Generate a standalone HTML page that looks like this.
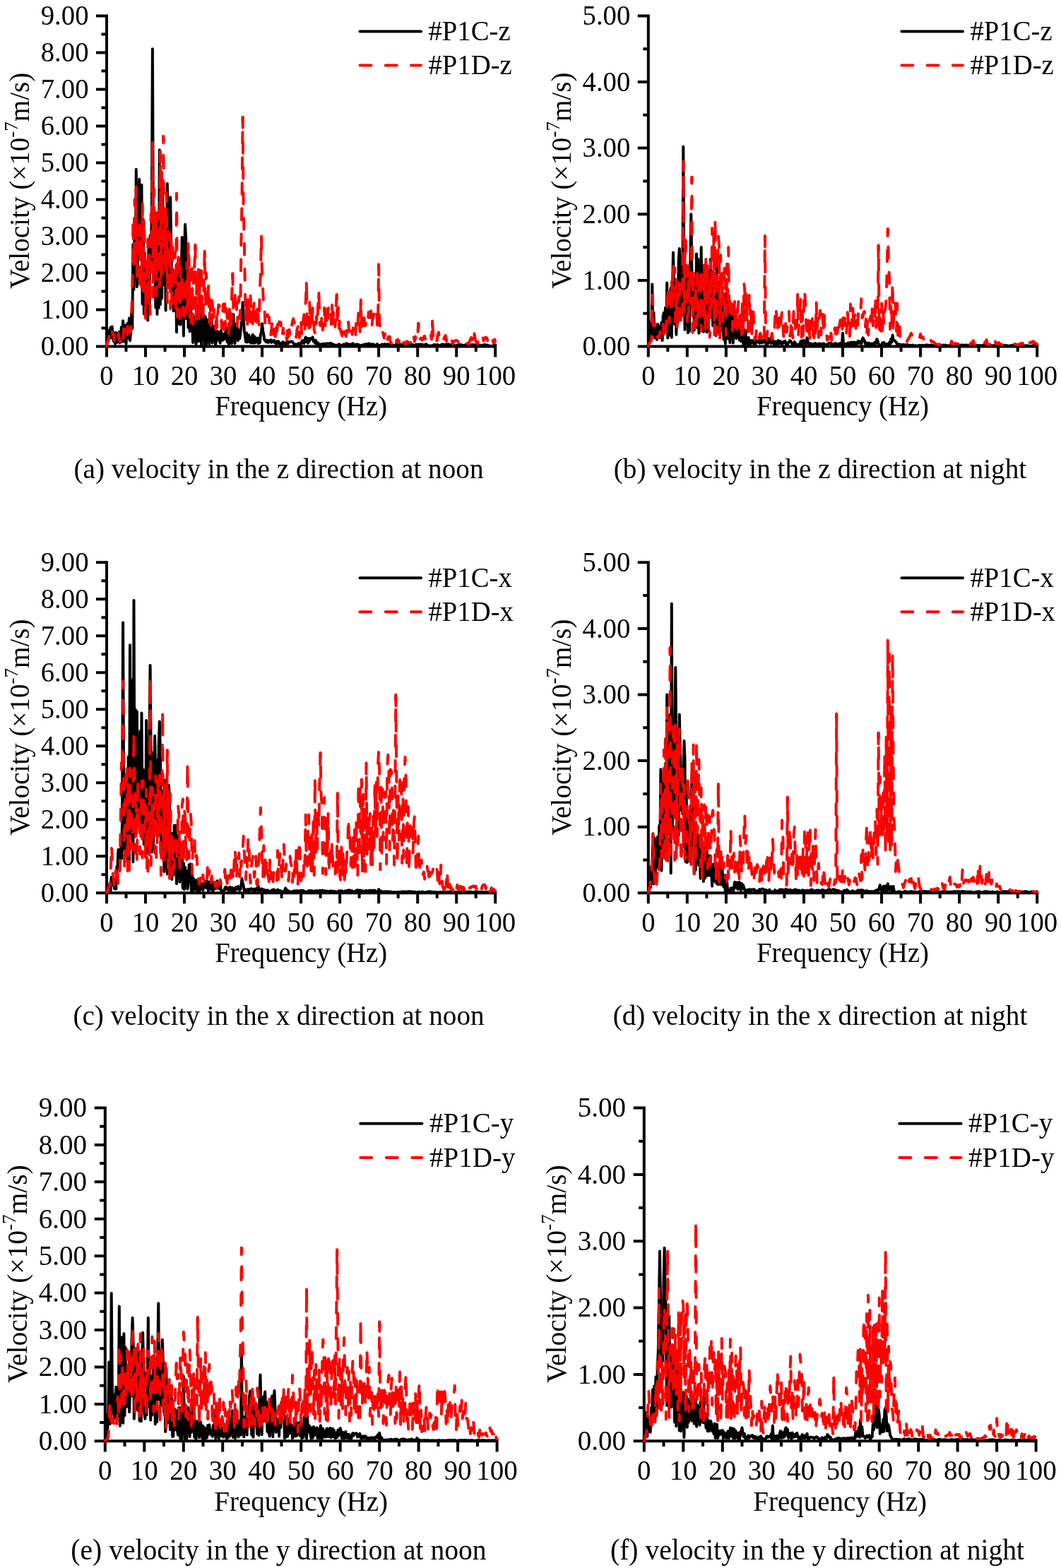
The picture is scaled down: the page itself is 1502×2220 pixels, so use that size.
<!DOCTYPE html>
<html lang="en">
<head>
<meta charset="utf-8">
<title>Velocity spectra at #P1C and #P1D</title>
<style>
html,body{margin:0;padding:0;background:#fff;}
body{width:1502px;height:2220px;overflow:hidden;}
svg{display:block;}
.t,.t text{font-family:"Liberation Serif","Times New Roman",Times,serif;fill:#000;}
.ax{fill:none;stroke:#000;stroke-linecap:butt;}
.sb{fill:none;stroke:#000;stroke-linejoin:round;stroke-linecap:round;}
.sr{fill:none;stroke:#f00;stroke-linejoin:round;stroke-linecap:round;stroke-dasharray:16 20;}
.rc{fill:none;stroke:#f00;stroke-linecap:round;}
.lb{stroke:#000;stroke-linecap:round;}
.lr{stroke:#f00;stroke-linecap:round;}
</style>
</head>
<body>
<svg width="1502" height="2220" viewBox="0 0 1502 2220">
<rect width="1502" height="2220" fill="#fff"/>
<g class="chart" id="chart-a">
<path class="ax" style="stroke-width:4" d="M151 20.4 V505.5 M136 490.5 H703.2 M143.5 464.5 H151 M136 438.5 H151 M143.5 412.5 H151 M136 386.5 H151 M143.5 360.5 H151 M136 334.5 H151 M143.5 308.5 H151 M136 282.5 H151 M143.5 256.4 H151 M136 230.4 H151 M143.5 204.4 H151 M136 178.4 H151 M143.5 152.4 H151 M136 126.4 H151 M143.5 100.4 H151 M136 74.4 H151 M143.5 48.4 H151 M136 22.4 H151 M178.5 490.5 V498 M206 490.5 V505.5 M233.5 490.5 V498 M261 490.5 V505.5 M288.6 490.5 V498 M316.1 490.5 V505.5 M343.6 490.5 V498 M371.1 490.5 V505.5 M398.6 490.5 V498 M426.1 490.5 V505.5 M453.6 490.5 V498 M481.1 490.5 V505.5 M508.6 490.5 V498 M536.1 490.5 V505.5 M563.7 490.5 V498 M591.2 490.5 V505.5 M618.7 490.5 V498 M646.2 490.5 V505.5 M673.7 490.5 V498 M701.2 490.5 V505.5"/>
<polyline class="sb" style="stroke-width:4" points="151,490.5 152.1,479.8 153.2,482.3 154.3,467.8 155.4,479 156.5,463.4 157.6,477.9 158.7,462.6 159.8,473.2 160.9,483.4 162,471.2 163.1,486.9 164.2,470.9 165.3,485.1 166.4,474.5 167.5,483.7 168.6,469.9 169.7,485.4 170.8,475.2 171.9,463.1 173,483.8 174.1,454.2 175.2,483.2 176.3,460.3 177.4,467.7 178.5,486.8 179.6,461.4 180.7,457.8 181.8,479.2 182.9,450.5 184,482.2 185.1,470.9 186.2,442.9 187.3,465.2 188.4,346.1 189.5,409.9 190.6,310.5 191.7,385.7 192.8,239.8 193.9,405.9 195,371.9 196.1,316 197.2,253.8 198.3,302.2 199.4,364.2 200.5,261.7 201.6,430.5 202.7,310.7 203.8,444.4 204.9,358.1 206,448.8 207.1,445.5 208.2,377.6 209.3,453.6 210.4,352.8 211.5,441.1 212.6,333.6 213.7,372.8 214.8,298 215.9,69.2 217,328.6 218.1,398.2 219.2,314 220.3,435.4 221.4,301.6 222.5,445 223.6,313.9 224.7,436.1 225.8,212.2 226.9,431.1 228,258 229.1,422.5 230.2,269.2 231.3,381.2 232.4,403.1 233.5,308.7 234.6,439.4 235.7,336.5 236.8,260.1 237.9,317.9 239,404.9 240.1,349.4 241.2,279.3 242.3,350.6 243.4,422.9 244.5,381.2 245.6,440.3 246.7,394.9 247.8,436.6 248.9,382.9 250,470.3 251.1,390.1 252.2,458.6 253.3,443.7 254.4,374.8 255.5,459.7 256.6,392.3 257.7,336 258.8,371 259.9,475.4 261,362.9 262.1,317.8 263.2,338.3 264.3,451.2 265.4,372.7 266.5,463.7 267.6,428.5 268.7,469.2 269.8,428.2 270.9,467.2 272,445.2 273.1,485 274.2,448 275.3,473.4 276.4,458.7 277.5,487.1 278.6,445.1 279.7,483.5 280.8,449.6 281.9,474.3 283,482.9 284.1,443.5 285.2,488.3 286.3,452.5 287.4,476 288.6,445.9 289.7,488.4 290.8,448.3 291.9,488.3 293,452.5 294.1,479.7 295.2,463.1 296.3,487 297.4,450.4 298.5,483.3 299.6,451.4 300.7,485.5 301.8,461.4 302.9,480.7 304,469.7 305.1,488.2 306.2,482.8 307.3,468.8 308.4,480.6 309.5,470.3 310.6,482.1 311.7,485.7 312.8,467.9 313.9,482.1 315,472.8 316.1,481.3 317.2,479.6 318.3,471.4 319.4,479.2 320.5,464.1 321.6,484.2 322.7,466.9 323.8,487.1 324.9,457.2 326,486.1 327.1,464.2 328.2,486 329.3,461.7 330.4,445.3 331.5,481.5 332.6,486 333.7,458.6 334.8,478.7 335.9,463.6 337,482.2 338.1,467.5 339.2,479.3 340.3,472.7 341.4,457.8 342.5,454.8 343.6,428.1 344.7,451.4 345.8,468 346.9,475.1 348,484.2 349.1,471.5 350.2,484.4 351.3,481.9 352.4,474.5 353.5,484.5 354.6,478.3 355.7,485.6 356.8,477.2 357.9,473.9 359,485.8 360.1,476.3 361.2,485.2 362.3,478.7 363.4,483.7 364.5,478.5 365.6,486 366.7,479.4 367.8,485.4 368.9,473.5 370,470.6 371.1,458.3 372.2,468.8 373.3,473.5 374.4,481.6 375.5,481.1 376.6,484.3 377.7,483.9 378.8,481.9 379.9,485 381,482.3 382.1,481.9 383.2,481.3 384.3,484.9 385.4,482.6 386.5,483.3 387.6,481.9 388.7,485 389.8,483.7 390.9,487 392,483.4 393.1,486.2 394.2,483.3 395.3,486.7 396.4,486.3 397.5,488 398.6,485.7 399.7,486.6 400.8,484.2 401.9,486.7 403,488.2 404.1,487.4 405.2,484.6 406.3,483.5 407.4,486.9 408.5,483.9 409.6,484.1 410.7,484.3 411.8,483.5 412.9,483.4 414,484 415.1,485.7 416.2,486.8 417.3,487.9 418.4,487.4 419.5,487.5 420.6,488.2 421.7,488.9 422.8,485.9 423.9,487.6 425,488 426.1,486.4 427.2,483.6 428.3,482.1 429.4,485.7 430.5,486 431.6,481.1 432.7,477.5 433.8,483.4 434.9,479.2 436,485.8 437.1,479 438.2,483 439.3,479.6 440.4,479.1 441.5,479.2 442.6,477.4 443.7,483.3 444.8,481.6 445.9,485.7 447,481.9 448.1,486.8 449.2,487.7 450.3,485.3 451.4,487.7 452.5,488.4 453.6,487.6 454.7,488.7 455.8,487 456.9,487.8 458,487.4 459.1,486.4 460.2,486.7 461.3,487.5 462.4,486.8 463.5,486.3 464.6,486.7 465.7,486.4 466.8,486.6 467.9,486.1 469,486.1 470.1,487.9 471.2,488.8 472.3,487.6 473.4,488.6 474.5,488.9 475.6,489 476.7,488.6 477.8,489 478.9,488.1 480,487.3 481.1,488.4 482.2,488.7 483.3,488.8 484.4,489.2 485.5,488.2 486.6,487.6 487.7,488.7 488.8,487.4 489.9,486.6 491,486.2 492.1,487.5 493.2,488.2 494.3,487.3 495.4,488.4 496.5,488.4 497.6,487.2 498.7,486.9 499.8,486.4 500.9,488 502,488.7 503.1,488.5 504.2,487.5 505.3,487.4 506.4,488.4 507.5,487.8 508.6,488.7 509.7,489 510.8,489.3 511.9,489.5 513,488.2 514.1,488.8 515.2,488.8 516.3,487.4 517.4,488.2 518.5,487.1 519.6,486.9 520.7,487.1 521.8,486.8 522.9,486.5 524,488 525.1,488.3 526.2,487.3 527.3,488.4 528.4,487.4 529.5,488.3 530.6,488.7 531.7,488.9 532.8,488.1 533.9,487.2 535,488.2 536.1,488.7 537.2,488.9 538.3,489.3 539.4,489 540.5,487.6 541.6,487.5 542.7,488.3 543.8,487.7 544.9,487.1 546,488 547.1,488.4 548.2,487.5 549.3,487.3 550.4,488.3 551.5,488.6 552.6,489 553.7,489 554.8,488.9 555.9,488.8 557,488.9 558.1,489 559.2,489.2 560.3,487.8 561.4,487.7 562.5,488.7 563.7,487.7 564.8,488.2 565.9,487.4 567,488.3 568.1,489 569.2,488 570.3,487.8 571.4,488.8 572.5,487.7 573.6,488.4 574.7,489 575.8,487.8 576.9,488.4 578,487.7 579.1,487.4 580.2,488.1 581.3,488.8 582.4,488.7 583.5,487.7 584.6,488.2 585.7,488.9 586.8,489.1 587.9,488.5 589,487.6 590.1,488.5 591.2,488.1 592.3,487.6 593.4,488.7 594.5,487.7 595.6,487.4 596.7,487.7 597.8,488.5 598.9,488.1 600,488.5 601.1,488.7 602.2,487.8 603.3,487.2 604.4,488.4 605.5,488.8 606.6,489.3 607.7,489.4 608.8,489.7 609.9,489.7 611,489.6 612.1,488.7 613.2,489.2 614.3,488.1 615.4,488.6 616.5,488.1 617.6,488.8 618.7,488.4 619.8,488 620.9,488.8 622,489.3 623.1,489.5 624.2,488.7 625.3,487.8 626.4,487.5 627.5,488.5 628.6,487.8 629.7,488.6 630.8,487.8 631.9,487.5 633,487.5 634.1,487.3 635.2,487.2 636.3,488.5 637.4,488.9 638.5,488.1 639.6,487.8 640.7,488.8 641.8,488 642.9,488.9 644,489.3 645.1,489.4 646.2,489.2 647.3,488.3 648.4,489.1 649.5,488.5 650.6,488.2 651.7,487.9 652.8,488.8 653.9,488.3 655,489 656.1,489.1 657.2,489.3 658.3,488.6 659.4,488.1 660.5,488.9 661.6,488.4 662.7,488 663.8,488 664.9,488.5 666,489.2 667.1,488.3 668.2,488.1 669.3,488.6 670.4,488.1 671.5,488.5 672.6,488.4 673.7,488.1 674.8,487.7 675.9,488.1 677,488 678.1,488.6 679.2,488.4 680.3,489 681.4,489.5 682.5,489.8 683.6,488.6 684.7,488.5 685.8,488 686.9,488.1 688,488.8 689.1,489.5 690.2,488.6 691.3,489.2 692.4,489.6 693.5,489.8 694.6,489.8 695.7,489.9 696.8,490 697.9,489.8 699,488.8 700.1,488.4 701.2,488.3"/>
<polyline class="sr" style="stroke-width:4" points="151,490.5 152.1,483.5 153.2,483.6 154.3,477.5 155.4,470.8 156.5,465.6 157.6,471.7 158.7,469.2 159.8,474.9 160.9,473.1 162,480.8 163.1,483.5 164.2,477.6 165.3,482.2 166.4,479.6 167.5,471.8 168.6,479.3 169.7,482.7 170.8,484.3 171.9,473.9 173,479.4 174.1,480.9 175.2,465.6 176.3,466.8 177.4,463.9 178.5,476.3 179.6,477.6 180.7,461.9 181.8,474.4 182.9,478.4 184,466.2 185.1,469.4 186.2,443 187.3,413.2 188.4,310.2 189.5,377.5 190.6,282.2 191.7,378.3 192.8,264.8 193.9,400.1 195,319 196.1,356.3 197.2,318.5 198.3,408.2 199.4,319.7 200.5,407 201.6,284.3 202.7,417.1 203.8,310.4 204.9,352.2 206,450.9 207.1,367.6 208.2,434.9 209.3,338.6 210.4,432.7 211.5,359.3 212.6,445.1 213.7,302.6 214.8,353.8 215.9,201.8 217,420.9 218.1,267.7 219.2,386.2 220.3,303.2 221.4,418.7 222.5,301.2 223.6,387 224.7,299.4 225.8,405.7 226.9,214.8 228,391.4 229.1,243 230.2,393 231.3,193 232.4,371.8 233.5,308.9 234.6,384.3 235.7,272.7 236.8,428.8 237.9,326.6 239,416.3 240.1,330.3 241.2,437.3 242.3,337.7 243.4,427.4 244.5,341.6 245.6,429.6 246.7,371.2 247.8,357 248.9,442 250,274.1 251.1,448.6 252.2,367.2 253.3,354.9 254.4,450.9 255.5,378 256.6,423.4 257.7,386.6 258.8,446.5 259.9,394.3 261,447.3 262.1,393 263.2,443.8 264.3,371.6 265.4,436.6 266.5,344.9 267.6,369.3 268.7,451.4 269.8,371.2 270.9,456.7 272,380.3 273.1,458.7 274.2,371.2 275.3,378.5 276.4,346.4 277.5,454.6 278.6,388 279.7,440.3 280.8,379.2 281.9,452.3 283,381 284.1,447.7 285.2,375.9 286.3,451.4 287.4,449.8 288.6,403.4 289.7,355.8 290.8,437.1 291.9,386.3 293,405 294.1,435.3 295.2,401.5 296.3,456.6 297.4,423.5 298.5,460.8 299.6,424.9 300.7,427.8 301.8,455 302.9,437.9 304,457.9 305.1,465.9 306.2,440.7 307.3,463.9 308.4,441 309.5,431.5 310.6,432.5 311.7,436.4 312.8,437.3 313.9,464.8 315,445.8 316.1,430.6 317.2,467 318.3,430.2 319.4,465 320.5,437 321.6,448.9 322.7,457.1 323.8,472.4 324.9,437.8 326,466.1 327.1,466.3 328.2,417.4 329.3,387.5 330.4,436.3 331.5,426.6 332.6,415.8 333.7,444 334.8,428.3 335.9,461.7 337,428.8 338.1,420 339.2,451 340.3,439.3 341.4,345.3 342.5,285.1 343.6,166 344.7,298.7 345.8,340 346.9,414 348,452.7 349.1,420.9 350.2,460.1 351.3,423.7 352.4,457.6 353.5,423.4 354.6,418.7 355.7,456.2 356.8,432.2 357.9,461.8 359,433.8 360.1,426.2 361.2,454.1 362.3,434.7 363.4,464.9 364.5,431 365.6,452 366.7,460.2 367.8,411.4 368.9,387.4 370,334.5 371.1,393.3 372.2,410.5 373.3,435.1 374.4,433.7 375.5,461.1 376.6,462.6 377.7,447.4 378.8,445.4 379.9,448.8 381,449 382.1,475.4 383.2,474.9 384.3,465.8 385.4,453.8 386.5,452.8 387.6,474.4 388.7,455.9 389.8,476.4 390.9,457.3 392,469.2 393.1,458.5 394.2,468.1 395.3,455.6 396.4,459.8 397.5,456.2 398.6,476.4 399.7,476.2 400.8,464.5 401.9,475.7 403,483 404.1,484.7 405.2,477.9 406.3,481 407.4,462.6 408.5,476.9 409.6,466.8 410.7,476.5 411.8,474.8 412.9,461.6 414,455.8 415.1,451.2 416.2,454.5 417.3,461.4 418.4,476.9 419.5,477.4 420.6,465.5 421.7,463.2 422.8,456.5 423.9,478.2 425,458.4 426.1,453.2 427.2,474.5 428.3,475.6 429.4,452.2 430.5,445.3 431.6,466.5 432.7,429.2 433.8,401 434.9,459.3 436,471.8 437.1,471.6 438.2,427.8 439.3,463.1 440.4,434.1 441.5,464.5 442.6,435.7 443.7,449.6 444.8,467.7 445.9,471.4 447,475 448.1,447.4 449.2,458.7 450.3,429 451.4,415.1 452.5,457.6 453.6,461.2 454.7,460 455.8,444.1 456.9,467.3 458,459.2 459.1,435.7 460.2,463.7 461.3,431.4 462.4,450.2 463.5,462.8 464.6,436.8 465.7,434.9 466.8,437.2 467.9,433 469,459.3 470.1,431.8 471.2,460 472.3,439.5 473.4,450.3 474.5,462.8 475.6,436.5 476.7,417.2 477.8,460.4 478.9,435.2 480,464.9 481.1,450.5 482.2,468.7 483.3,472.2 484.4,475.6 485.5,465.3 486.6,459.6 487.7,471.5 488.8,473.3 489.9,476.3 491,462.1 492.1,467 493.2,455.8 494.3,470.2 495.4,469.7 496.5,473.9 497.6,464 498.7,473.7 499.8,464.2 500.9,474.6 502,478.2 503.1,479.1 504.2,453.6 505.3,457.1 506.4,464.2 507.5,440.6 508.6,456.2 509.7,469.7 510.8,424.4 511.9,468.7 513,452.2 514.1,460.8 515.2,446.8 516.3,461.3 517.4,460.8 518.5,452.1 519.6,457.1 520.7,457.6 521.8,441.8 522.9,445.6 524,458.4 525.1,440.3 526.2,465 527.3,453.3 528.4,449 529.5,441.7 530.6,442.9 531.7,437.2 532.8,436.3 533.9,458.2 535,464 536.1,374.5 537.2,457.8 538.3,463.2 539.4,471.4 540.5,474.9 541.6,469.7 542.7,474.3 543.8,478.6 544.9,472.5 546,478.7 547.1,473.1 548.2,481.5 549.3,477.4 550.4,477 551.5,476.4 552.6,484.3 553.7,485.3 554.8,487.5 555.9,487.4 557,481.9 558.1,480.8 559.2,485.7 560.3,487.1 561.4,481.6 562.5,485.1 563.7,480.9 564.8,485 565.9,480.7 567,485.7 568.1,485.8 569.2,485.2 570.3,480.4 571.4,485 572.5,486.8 573.6,485.2 574.7,486.7 575.8,483.2 576.9,484.1 578,484.9 579.1,484.7 580.2,485.5 581.3,484.9 582.4,483.5 583.5,477.3 584.6,482.4 585.7,476.7 586.8,483.5 587.9,476.4 589,481.6 590.1,484.2 591.2,476.2 592.3,457.7 593.4,477.9 594.5,480.6 595.6,478.7 596.7,480 597.8,481.7 598.9,479.9 600,476.5 601.1,475.9 602.2,480.6 603.3,477.3 604.4,473.6 605.5,474.2 606.6,473.4 607.7,471.5 608.8,476.6 609.9,475.2 611,480.4 612.1,454.6 613.2,476.3 614.3,481.6 615.4,475.9 616.5,479.2 617.6,482.6 618.7,482 619.8,473.4 620.9,470.6 622,479.4 623.1,480.6 624.2,482.5 625.3,485.4 626.4,485.5 627.5,485.9 628.6,478.4 629.7,476.6 630.8,474.9 631.9,483 633,478.4 634.1,477.7 635.2,484.4 636.3,481.7 637.4,479.7 638.5,481.5 639.6,481.9 640.7,486.6 641.8,485 642.9,483.2 644,482.6 645.1,481.9 646.2,481.8 647.3,482.8 648.4,483.2 649.5,485.7 650.6,484.4 651.7,484.9 652.8,487.2 653.9,485.9 655,486.7 656.1,488 657.2,488.1 658.3,485.7 659.4,487 660.5,485.5 661.6,486 662.7,487.4 663.8,485.4 664.9,483.6 666,480.4 667.1,477.9 668.2,478.8 669.3,483.9 670.4,485.2 671.5,472.3 672.6,479.3 673.7,483.3 674.8,485.1 675.9,486.9 677,482.4 678.1,486.1 679.2,482.2 680.3,478.3 681.4,476.8 682.5,475.8 683.6,477.7 684.7,482.7 685.8,479.3 686.9,477.7 688,477.8 689.1,478.4 690.2,482.1 691.3,484.9 692.4,486.1 693.5,486.8 694.6,480.3 695.7,478.8 696.8,478 697.9,483.9 699,485.5 700.1,480.5 701.2,483.4"/>
<path class="rc" style="stroke-width:4" d="M192.8 264.8v7 M215.9 201.8v7 M226.9 214.8v7 M231.3 193v7 M250 274.1v7 M266.5 344.9v7 M276.4 346.4v7 M289.7 355.8v7 M329.3 387.5v7 M343.6 166v7 M370 334.5v7 M433.8 401v7 M451.4 415.1v7 M476.7 417.2v7 M510.8 424.4v7 M536.1 374.5v7 M592.3 457.7v7 M612.1 454.6v7 M671.5 472.3v7"/>
<g class="t" style="font-size:38.7px" text-anchor="end">
<text transform="translate(125.5 503.1) scale(1 1.045)">0.00</text>
<text transform="translate(125.5 451.1) scale(1 1.045)">1.00</text>
<text transform="translate(125.5 399.1) scale(1 1.045)">2.00</text>
<text transform="translate(125.5 347.1) scale(1 1.045)">3.00</text>
<text transform="translate(125.5 295.1) scale(1 1.045)">4.00</text>
<text transform="translate(125.5 243) scale(1 1.045)">5.00</text>
<text transform="translate(125.5 191) scale(1 1.045)">6.00</text>
<text transform="translate(125.5 139) scale(1 1.045)">7.00</text>
<text transform="translate(125.5 87) scale(1 1.045)">8.00</text>
<text transform="translate(125.5 35) scale(1 1.045)">9.00</text>
</g>
<g class="t" style="font-size:38.7px" text-anchor="middle">
<text transform="translate(151 545) scale(1 1.045)">0</text>
<text transform="translate(206 545) scale(1 1.045)">10</text>
<text transform="translate(261 545) scale(1 1.045)">20</text>
<text transform="translate(316.1 545) scale(1 1.045)">30</text>
<text transform="translate(371.1 545) scale(1 1.045)">40</text>
<text transform="translate(426.1 545) scale(1 1.045)">50</text>
<text transform="translate(481.1 545) scale(1 1.045)">60</text>
<text transform="translate(536.1 545) scale(1 1.045)">70</text>
<text transform="translate(591.2 545) scale(1 1.045)">80</text>
<text transform="translate(646.2 545) scale(1 1.045)">90</text>
<text transform="translate(701.2 545) scale(1 1.045)">100</text>
<text transform="translate(426.1 588.1) scale(1 1.045)">Frequency (Hz)</text>
<text transform="translate(40.7 255.8) rotate(-90) scale(1.0106 1.045)">Velocity (×10<tspan dy="-14.9" style="font-size:26.7px">-7</tspan><tspan dy="14.9">m/s)</tspan></text>
</g>
<line class="lb" style="stroke-width:4" x1="509.5" y1="44.4" x2="596" y2="44.4"/>
<line class="lr" style="stroke-width:4;stroke-dasharray:16 20.2" x1="509.5" y1="92.4" x2="596" y2="92.4"/>
<g class="t" style="font-size:38.7px">
<text transform="translate(606.5 57) scale(1 1.045)">#P1C-z</text>
<text transform="translate(606.5 105) scale(1 1.045)">#P1D-z</text>
</g>
<text class="t cap" style="font-size:39.2px" text-anchor="middle" transform="translate(394.5 677) scale(1 1.045)">(a) velocity in the z direction at noon</text>
</g>
<g class="chart" id="chart-b">
<path class="ax" style="stroke-width:4" d="M917.8 20.4 V505.5 M902.8 490.5 H1470.2 M910.3 443.7 H917.8 M902.8 396.9 H917.8 M910.3 350.1 H917.8 M902.8 303.3 H917.8 M910.3 256.4 H917.8 M902.8 209.6 H917.8 M910.3 162.8 H917.8 M902.8 116 H917.8 M910.3 69.2 H917.8 M902.8 22.4 H917.8 M945.3 490.5 V498 M972.8 490.5 V505.5 M1000.4 490.5 V498 M1027.9 490.5 V505.5 M1055.4 490.5 V498 M1082.9 490.5 V505.5 M1110.4 490.5 V498 M1138 490.5 V505.5 M1165.5 490.5 V498 M1193 490.5 V505.5 M1220.5 490.5 V498 M1248 490.5 V505.5 M1275.6 490.5 V498 M1303.1 490.5 V505.5 M1330.6 490.5 V498 M1358.1 490.5 V505.5 M1385.6 490.5 V498 M1413.2 490.5 V505.5 M1440.7 490.5 V498 M1468.2 490.5 V505.5"/>
<polyline class="sb" style="stroke-width:4" points="917.8,490.5 918.9,481.5 920,477.9 921.1,456 922.2,473.4 923.3,402.5 924.4,473.6 925.5,442.5 926.6,478.4 927.7,475.1 928.8,463.6 929.9,481 931,459 932.1,461 933.2,475.3 934.3,467.1 935.4,477.8 936.5,456.6 937.6,481.9 938.7,447.5 939.8,442.8 940.9,463.5 942,435.8 943.1,463 944.2,400.6 945.3,478.5 946.4,435.3 947.5,474.5 948.6,418.8 949.7,407.6 950.8,477.8 951.9,414.7 953,357.6 954.1,400.3 955.2,459 956.3,396.9 957.4,473.7 958.5,418.1 959.6,456.9 960.7,370.2 961.8,351.9 962.9,370.9 964,449 965.1,409.6 966.2,432.5 967.3,207.8 968.4,387.1 969.5,466.8 970.6,375 971.7,442.5 972.8,385.7 973.9,471.3 975,376.8 976.1,468.9 977.2,377.4 978.3,303.3 979.4,382.1 980.5,431.7 981.6,392.9 982.7,467.6 983.8,395.4 984.9,451.4 986,359.4 987.2,464.1 988.3,367 989.4,471.7 990.5,399.4 991.6,450.2 992.7,350.1 993.8,465.9 994.9,404.4 996,469.7 997.1,375.6 998.2,460.7 999.3,413.4 1000.4,470.3 1001.5,393.9 1002.6,468.7 1003.7,382.7 1004.8,449.6 1005.9,366.9 1007,439.7 1008.1,400.9 1009.2,461.2 1010.3,400.7 1011.4,450.2 1012.5,398.6 1013.6,475.1 1014.7,371.6 1015.8,470.3 1016.9,408.2 1018,399.5 1019.1,473.6 1020.2,438.1 1021.3,468.1 1022.4,425.2 1023.5,464.7 1024.6,480.5 1025.7,443.3 1026.8,486.7 1027.9,415.6 1029,479.3 1030.1,419.7 1031.2,479.8 1032.3,429.7 1033.4,485.1 1034.5,433 1035.6,473.3 1036.7,444.3 1037.8,485.6 1038.9,445.7 1040,470.9 1041.1,453.3 1042.2,479.2 1043.3,462.5 1044.4,453.1 1045.5,466.3 1046.6,481.4 1047.7,469.1 1048.8,483.1 1049.9,471.7 1051,462.6 1052.1,486.9 1053.2,466.3 1054.3,488.5 1055.4,468 1056.5,486.1 1057.6,478 1058.7,487.2 1059.8,477.9 1060.9,486.5 1062,487.6 1063.1,482 1064.2,485.3 1065.3,482.1 1066.4,486.2 1067.5,487.2 1068.6,483.4 1069.7,486.8 1070.8,482.4 1071.9,484.4 1073,483 1074.1,482.3 1075.2,485.8 1076.3,482.9 1077.4,481 1078.5,485.4 1079.6,482 1080.7,484.5 1081.8,481.3 1082.9,482.1 1084,486.8 1085.1,482.6 1086.2,486.7 1087.3,486.3 1088.4,479.3 1089.5,482.9 1090.6,484.9 1091.7,486 1092.8,482 1093.9,481.9 1095,485.8 1096.1,487.5 1097.2,483.4 1098.3,485.9 1099.4,488 1100.5,484 1101.6,482.1 1102.7,486.6 1103.8,483.8 1104.9,483.1 1106,486.8 1107.1,487.5 1108.2,484.8 1109.3,483.5 1110.4,485.5 1111.5,482.8 1112.6,486 1113.7,487.8 1114.8,487.9 1115.9,485.2 1117,484.2 1118.1,482.2 1119.2,483 1120.3,485 1121.4,487.1 1122.5,486.4 1123.6,488.2 1124.8,484.1 1125.9,485.8 1127,487.9 1128.1,487.8 1129.2,488.4 1130.3,487.9 1131.4,487.1 1132.5,488 1133.6,482.8 1134.7,486.1 1135.8,487.6 1136.9,481.7 1138,485.6 1139.1,482.5 1140.2,487.1 1141.3,487.5 1142.4,478.3 1143.5,483.1 1144.6,486.2 1145.7,487 1146.8,488.3 1147.9,486.4 1149,488 1150.1,488.3 1151.2,487.3 1152.3,486.8 1153.4,486.5 1154.5,486 1155.6,487.7 1156.7,488.1 1157.8,487.9 1158.9,486.5 1160,486.4 1161.1,487.9 1162.2,487.1 1163.3,488 1164.4,486.9 1165.5,486.5 1166.6,486.4 1167.7,487.8 1168.8,488 1169.9,488.5 1171,488.3 1172.1,486.8 1173.2,485.9 1174.3,485.6 1175.4,485.4 1176.5,487.4 1177.6,486.8 1178.7,487.6 1179.8,486.8 1180.9,488.1 1182,486.5 1183.1,486 1184.2,487 1185.3,488.3 1186.4,488.4 1187.5,487 1188.6,486.3 1189.7,486.1 1190.8,487.6 1191.9,488.1 1193,471.8 1194.1,487.6 1195.2,486.8 1196.3,488 1197.4,488.3 1198.5,486.6 1199.6,487.2 1200.7,485.5 1201.8,487.7 1202.9,485.3 1204,485.1 1205.1,487.5 1206.2,484.6 1207.3,486.3 1208.4,484.7 1209.5,487.6 1210.6,484.7 1211.7,487.5 1212.8,484.9 1213.9,486.6 1215,482.9 1216.1,485.1 1217.2,483.4 1218.3,486.6 1219.4,486.7 1220.5,481.5 1221.6,478.3 1222.7,481.3 1223.8,481.6 1224.9,486.6 1226,487.4 1227.1,485.5 1228.2,487.9 1229.3,485.8 1230.4,486 1231.5,487.9 1232.6,486.7 1233.7,488 1234.8,486.6 1235.9,487.3 1237,488.1 1238.1,484.9 1239.2,487 1240.3,483.8 1241.4,480.2 1242.5,482.5 1243.6,487 1244.7,488.3 1245.8,488.9 1246.9,488.8 1248,488.6 1249.1,485.4 1250.2,485.4 1251.3,484.9 1252.4,486.6 1253.5,488.3 1254.6,488 1255.7,487.1 1256.8,488.3 1257.9,488.7 1259,484.7 1260.1,487.4 1261.2,480 1262.4,484.5 1263.5,474.6 1264.6,481 1265.7,482.1 1266.8,482.4 1267.9,483.7 1269,485.3 1270.1,487.8 1271.2,487 1272.3,488.4 1273.4,487.5 1274.5,488.3 1275.6,487.9 1276.7,488.7 1277.8,488.2 1278.9,488 1280,488.6 1281.1,488.3 1282.2,488.3 1283.3,488.2 1284.4,488.1 1285.5,488.3 1286.6,488.9 1287.7,489.3 1288.8,489.2 1289.9,488.8 1291,489.2 1292.1,488.6 1293.2,489.2 1294.3,489.5 1295.4,489.5 1296.5,489.3 1297.6,489.6 1298.7,489.7 1299.8,489.7 1300.9,488.8 1302,489 1303.1,489.2 1304.2,489.5 1305.3,488.7 1306.4,489 1307.5,489.4 1308.6,489.3 1309.7,488.8 1310.8,488.4 1311.9,488.5 1313,488.5 1314.1,489 1315.2,488.8 1316.3,489.2 1317.4,488.8 1318.5,488.3 1319.6,489.1 1320.7,489.3 1321.8,489 1322.9,488.6 1324,488.3 1325.1,488.3 1326.2,488.8 1327.3,488.4 1328.4,488.3 1329.5,488.7 1330.6,488.5 1331.7,489.1 1332.8,488.7 1333.9,489.2 1335,488.6 1336.1,489.2 1337.2,488.7 1338.3,488.5 1339.4,489 1340.5,489.4 1341.6,489.4 1342.7,489.4 1343.8,489.3 1344.9,488.9 1346,488.6 1347.1,488.3 1348.2,488.3 1349.3,488.3 1350.4,488.3 1351.5,488.8 1352.6,489.2 1353.7,488.7 1354.8,488.4 1355.9,488.5 1357,488.4 1358.1,488.5 1359.2,489.1 1360.3,488.8 1361.4,488.5 1362.5,488.4 1363.6,489.2 1364.7,488.7 1365.8,488.8 1366.9,488.6 1368,488.5 1369.1,488.7 1370.2,489.2 1371.3,488.8 1372.4,489.4 1373.5,489.4 1374.6,488.8 1375.7,489.1 1376.8,488.9 1377.9,489.3 1379,489.5 1380.1,489.2 1381.2,488.8 1382.3,488.7 1383.4,489.3 1384.5,489.5 1385.6,488.9 1386.7,489.3 1387.8,489.6 1388.9,489.2 1390,489.4 1391.1,489 1392.2,489.5 1393.3,488.9 1394.4,489.3 1395.5,489.4 1396.6,488.9 1397.7,488.7 1398.8,488.8 1400,488.6 1401.1,489.2 1402.2,488.8 1403.3,489.2 1404.4,489.4 1405.5,489.5 1406.6,489.1 1407.7,489.3 1408.8,489.7 1409.9,489.1 1411,488.8 1412.1,488.9 1413.2,488.7 1414.3,489.1 1415.4,489.6 1416.5,489.2 1417.6,488.9 1418.7,489.2 1419.8,488.8 1420.9,488.9 1422,488.8 1423.1,488.9 1424.2,489.5 1425.3,489.2 1426.4,489.5 1427.5,489.8 1428.6,489.8 1429.7,489.8 1430.8,489.4 1431.9,489 1433,488.8 1434.1,489 1435.2,489.5 1436.3,489 1437.4,489.6 1438.5,489.8 1439.6,489.8 1440.7,489.8 1441.8,489.9 1442.9,489.4 1444,489.5 1445.1,489.6 1446.2,489.8 1447.3,489.3 1448.4,489.6 1449.5,489.3 1450.6,489.6 1451.7,489.4 1452.8,489.1 1453.9,489.5 1455,489.5 1456.1,489.8 1457.2,489.9 1458.3,489.9 1459.4,490 1460.5,490 1461.6,489.4 1462.7,489.1 1463.8,489.1 1464.9,488.9 1466,489 1467.1,488.9 1468.2,489.3"/>
<polyline class="sr" style="stroke-width:4" points="917.8,490.5 918.9,485.9 920,485.2 921.1,483.7 922.2,482.1 923.3,417.5 924.4,458.8 925.5,461.8 926.6,457.9 927.7,459.2 928.8,475.1 929.9,477.5 931,476.4 932.1,478.1 933.2,478.3 934.3,469.5 935.4,473.8 936.5,476.6 937.6,467.8 938.7,459.2 939.8,473.2 940.9,467.7 942,476.2 943.1,459.4 944.2,434.9 945.3,406.2 946.4,424.3 947.5,457.6 948.6,414 949.7,434.7 950.8,398.7 951.9,433.8 953,368.8 954.1,382.4 955.2,379.1 956.3,456.1 957.4,395.4 958.5,463.9 959.6,414.6 960.7,463.1 961.8,390.9 962.9,438.6 964,458.7 965.1,459.8 966.2,398.4 967.3,228.4 968.4,442 969.5,361.9 970.6,337 971.7,394.1 972.8,455.1 973.9,376.2 975,444.5 976.1,384.3 977.2,430.8 978.3,378.5 979.4,250.8 980.5,470.7 981.6,381.2 982.7,463.7 983.8,404.3 984.9,404 986,460.8 987.2,378.3 988.3,454.8 989.4,403.8 990.5,458.1 991.6,382.7 992.7,468.7 993.8,380.9 994.9,393.1 996,456.7 997.1,376.5 998.2,469.6 999.3,366.9 1000.4,430.3 1001.5,370.8 1002.6,472.3 1003.7,392.8 1004.8,477.5 1005.9,370.7 1007,436.5 1008.1,322.9 1009.2,430 1010.3,328.6 1011.4,474.1 1012.5,309.8 1013.6,430.7 1014.7,473.4 1015.8,380.2 1016.9,334.2 1018,348.9 1019.1,478.4 1020.2,361.1 1021.3,431.4 1022.4,386.8 1023.5,455.1 1024.6,407.4 1025.7,376.3 1026.8,408.3 1027.9,474.4 1029,373.8 1030.1,434.8 1031.2,350.1 1032.3,448.2 1033.4,419.8 1034.5,418 1035.6,430.5 1036.7,468.1 1037.8,431.9 1038.9,453.4 1040,426.9 1041.1,469.4 1042.2,435.9 1043.3,465.9 1044.4,436.6 1045.5,427 1046.6,453.8 1047.7,472.1 1048.8,445.4 1049.9,473.8 1051,423.5 1052.1,472 1053.2,400.6 1054.3,410.9 1055.4,453.3 1056.5,415.8 1057.6,466.6 1058.7,470.4 1059.8,436.3 1060.9,413.7 1062,468.6 1063.1,437.6 1064.2,473.9 1065.3,450.3 1066.4,439 1067.5,468.9 1068.6,480.5 1069.7,479.9 1070.8,467 1071.9,470.7 1073,478.5 1074.1,482.4 1075.2,475 1076.3,471.7 1077.4,475.7 1078.5,481.2 1079.6,472.9 1080.7,469.4 1081.8,477.3 1082.9,334.2 1084,475.1 1085.1,481 1086.2,469.7 1087.3,465.5 1088.4,465.1 1089.5,464.1 1090.6,467.1 1091.7,478.7 1092.8,471.9 1093.9,480.7 1095,469.7 1096.1,470.4 1097.2,450.6 1098.3,434.3 1099.4,447.2 1100.5,470.6 1101.6,451.6 1102.7,468.7 1103.8,449.7 1104.9,465.6 1106,449.2 1107.1,441.8 1108.2,460.5 1109.3,476.3 1110.4,460.4 1111.5,469.6 1112.6,450.2 1113.7,470.6 1114.8,461.2 1115.9,452.7 1117,440.9 1118.1,475.8 1119.2,471.6 1120.3,452.5 1121.4,470.2 1122.5,478.4 1123.6,437.1 1124.8,440.7 1125.9,465.6 1127,449 1128.1,462.4 1129.2,416.5 1130.3,473.9 1131.4,446.1 1132.5,438.3 1133.6,422.2 1134.7,477.4 1135.8,439.8 1136.9,475.1 1138,427.9 1139.1,410.9 1140.2,432.7 1141.3,459.2 1142.4,474.2 1143.5,479 1144.6,448.4 1145.7,469.5 1146.8,480.9 1147.9,454.5 1149,474.6 1150.1,449.3 1151.2,474.8 1152.3,478.3 1153.4,454.6 1154.5,476.6 1155.6,426.8 1156.7,465.7 1157.8,450.1 1158.9,477.8 1160,448.7 1161.1,439.6 1162.2,474.2 1163.3,460.1 1164.4,445.1 1165.5,471.3 1166.6,437.1 1167.7,470.8 1168.8,467.8 1169.9,471.7 1171,481.8 1172.1,476.1 1173.2,482.2 1174.3,476 1175.4,482.4 1176.5,471.8 1177.6,484.1 1178.7,474.2 1179.8,471.8 1180.9,468.8 1182,464.1 1183.1,473.2 1184.2,456.8 1185.3,472.1 1186.4,460.8 1187.5,470.3 1188.6,458.9 1189.7,453 1190.8,470.6 1191.9,472.2 1193,455.1 1194.1,442.8 1195.2,461.1 1196.3,450.1 1197.4,467.5 1198.5,471.4 1199.6,439.9 1200.7,453.5 1201.8,462.1 1202.9,477.2 1204,430.6 1205.1,462.7 1206.2,445.6 1207.3,434.5 1208.4,466.9 1209.5,448.5 1210.6,446 1211.7,465.7 1212.8,453.6 1213.9,469.2 1215,442 1216.1,434.4 1217.2,439.3 1218.3,439.7 1219.4,423.1 1220.5,449.9 1221.6,448.6 1222.7,441.8 1223.8,440.9 1224.9,463 1226,451.6 1227.1,473.7 1228.2,451 1229.3,474.5 1230.4,449.1 1231.5,453.8 1232.6,447.6 1233.7,464.4 1234.8,435.3 1235.9,461.2 1237,450.9 1238.1,458.5 1239.2,419.3 1240.3,463.7 1241.4,439.9 1242.5,461.2 1243.6,347.3 1244.7,470.4 1245.8,450.3 1246.9,469.5 1248,429.6 1249.1,468.2 1250.2,439.9 1251.3,459.9 1252.4,441.1 1253.5,435.7 1254.6,422.4 1255.7,382.2 1256.8,323.9 1257.9,371.9 1259,394.1 1260.1,466.2 1261.2,433.3 1262.4,461.4 1263.5,399.7 1264.6,470.5 1265.7,427.1 1266.8,425.2 1267.9,437.1 1269,468.8 1270.1,429.6 1271.2,477.4 1272.3,479.5 1273.4,462.4 1274.5,481.1 1275.6,485 1276.7,486.5 1277.8,486.7 1278.9,486.2 1280,486.8 1281.1,487 1282.2,485.7 1283.3,484.8 1284.4,482.4 1285.5,480.1 1286.6,478.9 1287.7,476.6 1288.8,474.2 1289.9,471.8 1291,474.7 1292.1,474.2 1293.2,474.9 1294.3,473.6 1295.4,478 1296.5,479.5 1297.6,480 1298.7,481 1299.8,480.9 1300.9,481.4 1302,477.7 1303.1,472.7 1304.2,478.1 1305.3,477.2 1306.4,477.1 1307.5,480.3 1308.6,480.3 1309.7,481.3 1310.8,481.2 1311.9,479.2 1313,477.6 1314.1,476.5 1315.2,482.4 1316.3,480.7 1317.4,480.9 1318.5,483.6 1319.6,483.2 1320.7,484.1 1321.8,484.3 1322.9,485.5 1324,486.4 1325.1,487.3 1326.2,487.4 1327.3,487.6 1328.4,488.1 1329.5,487.3 1330.6,487.8 1331.7,488.3 1332.8,487.2 1333.9,487.1 1335,488 1336.1,488.5 1337.2,487.3 1338.3,488.3 1339.4,488.7 1340.5,488.7 1341.6,488.4 1342.7,488.7 1343.8,488.3 1344.9,485.8 1346,486.8 1347.1,483 1348.2,485.7 1349.3,487.2 1350.4,487.5 1351.5,486.8 1352.6,485.9 1353.7,486.5 1354.8,486.7 1355.9,486.8 1357,487.9 1358.1,487.4 1359.2,488 1360.3,488.6 1361.4,487.9 1362.5,488.2 1363.6,487.7 1364.7,488.2 1365.8,487.5 1366.9,488.3 1368,487.6 1369.1,488.4 1370.2,487.6 1371.3,487.6 1372.4,488.3 1373.5,487.6 1374.6,485.7 1375.7,484.6 1376.8,486.1 1377.9,482.1 1379,487 1380.1,488.3 1381.2,485.8 1382.3,487.9 1383.4,485.9 1384.5,486 1385.6,486.1 1386.7,485.3 1387.8,485 1388.9,484.6 1390,484.8 1391.1,484.7 1392.2,486.5 1393.3,486.5 1394.4,484.9 1395.5,483 1396.6,481.1 1397.7,487.4 1398.8,488.3 1400,488.1 1401.1,487.5 1402.2,484.7 1403.3,486.7 1404.4,487 1405.5,484.4 1406.6,486.6 1407.7,481.1 1408.8,483.3 1409.9,486.8 1411,485.4 1412.1,486.8 1413.2,485.4 1414.3,485.1 1415.4,487.2 1416.5,486.9 1417.6,487.3 1418.7,488.2 1419.8,488.5 1420.9,487.6 1422,487.1 1423.1,487.2 1424.2,487.1 1425.3,486.9 1426.4,488.2 1427.5,488.6 1428.6,487.8 1429.7,487.2 1430.8,488.3 1431.9,488.4 1433,487.9 1434.1,487.4 1435.2,487.5 1436.3,487.1 1437.4,486.9 1438.5,487.8 1439.6,488.3 1440.7,487.6 1441.8,488.1 1442.9,488.6 1444,487.1 1445.1,486 1446.2,487.1 1447.3,488.1 1448.4,483 1449.5,488.5 1450.6,486.6 1451.7,486.4 1452.8,486.4 1453.9,487.9 1455,488.1 1456.1,486.4 1457.2,485.5 1458.3,485.1 1459.4,484.4 1460.5,485.1 1461.6,484.1 1462.7,483 1463.8,485.3 1464.9,484.9 1466,486.8 1467.1,486.4 1468.2,487.5"/>
<path class="rc" style="stroke-width:4" d="M967.3 228.4v7 M979.4 250.8v7 M1082.9 334.2v7 M1243.6 347.3v7 M1256.8 323.9v7"/>
<g class="t" style="font-size:38.7px" text-anchor="end">
<text transform="translate(892.3 503.1) scale(1 1.045)">0.00</text>
<text transform="translate(892.3 409.5) scale(1 1.045)">1.00</text>
<text transform="translate(892.3 315.9) scale(1 1.045)">2.00</text>
<text transform="translate(892.3 222.2) scale(1 1.045)">3.00</text>
<text transform="translate(892.3 128.6) scale(1 1.045)">4.00</text>
<text transform="translate(892.3 35) scale(1 1.045)">5.00</text>
</g>
<g class="t" style="font-size:38.7px" text-anchor="middle">
<text transform="translate(917.8 545) scale(1 1.045)">0</text>
<text transform="translate(972.8 545) scale(1 1.045)">10</text>
<text transform="translate(1027.9 545) scale(1 1.045)">20</text>
<text transform="translate(1082.9 545) scale(1 1.045)">30</text>
<text transform="translate(1138 545) scale(1 1.045)">40</text>
<text transform="translate(1193 545) scale(1 1.045)">50</text>
<text transform="translate(1248 545) scale(1 1.045)">60</text>
<text transform="translate(1303.1 545) scale(1 1.045)">70</text>
<text transform="translate(1358.1 545) scale(1 1.045)">80</text>
<text transform="translate(1413.2 545) scale(1 1.045)">90</text>
<text transform="translate(1468.2 545) scale(1 1.045)">100</text>
<text transform="translate(1193 588.1) scale(1 1.045)">Frequency (Hz)</text>
<text transform="translate(807.5 255.7) rotate(-90) scale(1.0106 1.045)">Velocity (×10<tspan dy="-14.9" style="font-size:26.7px">-7</tspan><tspan dy="14.9">m/s)</tspan></text>
</g>
<line class="lb" style="stroke-width:4" x1="1276.4" y1="44.4" x2="1363" y2="44.4"/>
<line class="lr" style="stroke-width:4;stroke-dasharray:16 20.2" x1="1276.4" y1="92.4" x2="1363" y2="92.4"/>
<g class="t" style="font-size:38.7px">
<text transform="translate(1373.5 57) scale(1 1.045)">#P1C-z</text>
<text transform="translate(1373.5 105) scale(1 1.045)">#P1D-z</text>
</g>
<text class="t cap" style="font-size:39.2px" text-anchor="middle" transform="translate(1161 677) scale(1 1.045)">(b) velocity in the z direction at night</text>
</g>
<g class="chart" id="chart-c">
<path class="ax" style="stroke-width:4" d="M151 794.3 V1279.3 M136 1264.3 H703.2 M143.5 1238.3 H151 M136 1212.3 H151 M143.5 1186.3 H151 M136 1160.3 H151 M143.5 1134.3 H151 M136 1108.3 H151 M143.5 1082.3 H151 M136 1056.3 H151 M143.5 1030.3 H151 M136 1004.3 H151 M143.5 978.3 H151 M136 952.3 H151 M143.5 926.3 H151 M136 900.3 H151 M143.5 874.3 H151 M136 848.3 H151 M143.5 822.3 H151 M136 796.3 H151 M178.5 1264.3 V1271.8 M206 1264.3 V1279.3 M233.5 1264.3 V1271.8 M261 1264.3 V1279.3 M288.6 1264.3 V1271.8 M316.1 1264.3 V1279.3 M343.6 1264.3 V1271.8 M371.1 1264.3 V1279.3 M398.6 1264.3 V1271.8 M426.1 1264.3 V1279.3 M453.6 1264.3 V1271.8 M481.1 1264.3 V1279.3 M508.6 1264.3 V1271.8 M536.1 1264.3 V1279.3 M563.7 1264.3 V1271.8 M591.2 1264.3 V1279.3 M618.7 1264.3 V1271.8 M646.2 1264.3 V1279.3 M673.7 1264.3 V1271.8 M701.2 1264.3 V1279.3"/>
<polyline class="sb" style="stroke-width:4" points="151,1264.3 152.1,1262.3 153.2,1257.6 154.3,1258.6 155.4,1252.2 156.5,1262 157.6,1242.1 158.7,1253.2 159.8,1241.4 160.9,1244.8 162,1258.2 163.1,1245.2 164.2,1258.8 165.3,1227.3 166.4,1227.2 167.5,1202.9 168.6,1220.2 169.7,1232 170.8,1201 171.9,1215.6 173,1165.2 174.1,881.6 175.2,1137.2 176.3,1206 177.4,1132.5 178.5,1130.5 179.6,1109.9 180.7,1222.6 181.8,1071.3 182.9,1232.1 184,913.3 185.1,1176.3 186.2,962.7 187.3,1176.1 188.4,1220.3 189.5,849.9 190.6,1160 191.7,1004.6 192.8,1136.6 193.9,1007.4 195,1166.2 196.1,1043.6 197.2,1154.8 198.3,1035.3 199.4,1165.9 200.5,1009.5 201.6,1156.8 202.7,1089.8 203.8,1195.5 204.9,1093.8 206,1207 207.1,1019.9 208.2,1208.5 209.3,1089 210.4,1176.6 211.5,1041.4 212.6,941.9 213.7,1064.5 214.8,1206.6 215.9,1066 217,1201.9 218.1,1098.3 219.2,1041.7 220.3,1100.8 221.4,1167.2 222.5,1076.1 223.6,1174 224.7,1058 225.8,1021.5 226.9,1062 228,1210.1 229.1,1119.2 230.2,1194.6 231.3,1128.8 232.4,1234.1 233.5,1104.7 234.6,1228.6 235.7,1125.9 236.8,1237.6 237.9,1146.1 239,1111.9 240.1,1133.3 241.2,1231 242.3,1183.2 243.4,1244.9 244.5,1180.1 245.6,1239.1 246.7,1168.8 247.8,1230.1 248.9,1168.6 250,1251.2 251.1,1182.7 252.2,1236.1 253.3,1193.8 254.4,1248.7 255.5,1203.8 256.6,1239.2 257.7,1205 258.8,1257.5 259.9,1222.1 261,1259.3 262.1,1228.1 263.2,1250.5 264.3,1233.5 265.4,1258.7 266.5,1250 267.6,1224.2 268.7,1246.7 269.8,1223.2 270.9,1262.4 272,1236.4 273.1,1262 274.2,1244 275.3,1259.5 276.4,1246.5 277.5,1249.7 278.6,1260.8 279.7,1245.4 280.8,1261.7 281.9,1251.8 283,1260.5 284.1,1252.3 285.2,1257.1 286.3,1250.7 287.4,1260.2 288.6,1251.5 289.7,1250.6 290.8,1248.4 291.9,1257.3 293,1247.5 294.1,1256.5 295.2,1262.1 296.3,1248.4 297.4,1255.8 298.5,1248.2 299.6,1259.9 300.7,1248.8 301.8,1261.1 302.9,1252.8 304,1258.1 305.1,1251.6 306.2,1257.8 307.3,1247.2 308.4,1257.3 309.5,1249.4 310.6,1258.4 311.7,1249.3 312.8,1260.1 313.9,1261 315,1262.6 316.1,1261.9 317.2,1260.8 318.3,1257.6 319.4,1255.7 320.5,1259 321.6,1256.9 322.7,1257.4 323.8,1261.2 324.9,1256.7 326,1255.9 327.1,1259 328.2,1261.7 329.3,1256.9 330.4,1261 331.5,1262 332.6,1258.9 333.7,1256.3 334.8,1259.6 335.9,1256.1 337,1255 338.1,1256.1 339.2,1260.2 340.3,1259.4 341.4,1253.2 342.5,1244 343.6,1249.6 344.7,1254.1 345.8,1260.9 346.9,1259.2 348,1261.6 349.1,1259.9 350.2,1261.5 351.3,1258.8 352.4,1261.4 353.5,1260.1 354.6,1259.1 355.7,1258.1 356.8,1259.9 357.9,1260.5 359,1258.7 360.1,1258.8 361.2,1261.2 362.3,1258.7 363.4,1257.5 364.5,1259.9 365.6,1254.4 366.7,1261.8 367.8,1258.4 368.9,1260.9 370,1258.6 371.1,1258.6 372.2,1259.4 373.3,1261 374.4,1260 375.5,1260.4 376.6,1261.8 377.7,1261.1 378.8,1260.4 379.9,1261.5 381,1261.9 382.1,1262.4 383.2,1262.3 384.3,1260.6 385.4,1260.6 386.5,1259.7 387.6,1259.3 388.7,1261.3 389.8,1262.2 390.9,1261.8 392,1260.6 393.1,1259.6 394.2,1260.6 395.3,1261.5 396.4,1260.7 397.5,1261.8 398.6,1262.3 399.7,1262.5 400.8,1262.2 401.9,1262.7 403,1261.1 404.1,1257.5 405.2,1259 406.3,1261.5 407.4,1262.3 408.5,1261.3 409.6,1262.1 410.7,1262.6 411.8,1263 412.9,1263.2 414,1262 415.1,1262.7 416.2,1261.6 417.3,1261 418.4,1261.8 419.5,1262 420.6,1261.1 421.7,1261.6 422.8,1262 423.9,1261.3 425,1260.8 426.1,1261 427.2,1260.9 428.3,1261.2 429.4,1260.7 430.5,1262.1 431.6,1262.5 432.7,1262.4 433.8,1262.7 434.9,1263.1 436,1261.7 437.1,1261.3 438.2,1260.8 439.3,1262 440.4,1261.2 441.5,1261.1 442.6,1262 443.7,1262.7 444.8,1261.6 445.9,1262 447,1261.5 448.1,1260.9 449.2,1261.6 450.3,1262.5 451.4,1261.2 452.5,1260.8 453.6,1261.7 454.7,1260.8 455.8,1261 456.9,1260.8 458,1260.9 459.1,1262.1 460.2,1261.4 461.3,1262 462.4,1261.6 463.5,1262.2 464.6,1262.3 465.7,1262.8 466.8,1261.6 467.9,1262 469,1261.5 470.1,1261.8 471.2,1262.5 472.3,1263 473.4,1261.8 474.5,1262.4 475.6,1262.7 476.7,1262.6 477.8,1263.1 478.9,1262.8 480,1261.2 481.1,1262.4 482.2,1262.2 483.3,1261 484.4,1261.5 485.5,1262.4 486.6,1262.8 487.7,1262.8 488.8,1261.3 489.9,1261.9 491,1261.2 492.1,1260.7 493.2,1260.6 494.3,1260.3 495.4,1261.8 496.5,1261.1 497.6,1260.9 498.7,1261.7 499.8,1262 500.9,1262.3 502,1262.9 503.1,1261.8 504.2,1261 505.3,1260.3 506.4,1260.2 507.5,1261.9 508.6,1260.7 509.7,1260.4 510.8,1261.7 511.9,1262.1 513,1261 514.1,1262.2 515.2,1262.9 516.3,1261.9 517.4,1261.1 518.5,1261 519.6,1261.5 520.7,1262.3 521.8,1261.1 522.9,1261.5 524,1261 525.1,1260.6 526.2,1261.3 527.3,1261 528.4,1260.5 529.5,1262 530.6,1260.7 531.7,1261.8 532.8,1262.7 533.9,1263.2 535,1263.4 536.1,1259.1 537.2,1261 538.3,1261.9 539.4,1261.6 540.5,1262.7 541.6,1262.4 542.7,1262.6 543.8,1262.9 544.9,1262.4 546,1262.3 547.1,1262.6 548.2,1262.3 549.3,1262.4 550.4,1262.8 551.5,1262.5 552.6,1262.5 553.7,1262.7 554.8,1263.2 555.9,1263.4 557,1263.2 558.1,1263.3 559.2,1263.3 560.3,1263.5 561.4,1263.3 562.5,1263.2 563.7,1263.2 564.8,1262.7 565.9,1263.2 567,1263.3 568.1,1262.9 569.2,1262.4 570.3,1262.9 571.4,1262.6 572.5,1262.5 573.6,1263.1 574.7,1262.6 575.8,1263 576.9,1262.4 578,1262.3 579.1,1262.3 580.2,1262.3 581.3,1262.6 582.4,1262.6 583.5,1262.6 584.6,1263 585.7,1262.7 586.8,1262.6 587.9,1263.2 589,1263.4 590.1,1263.4 591.2,1263.3 592.3,1262.7 593.4,1263 594.5,1263 595.6,1263.3 596.7,1262.7 597.8,1262.5 598.9,1263.1 600,1263.2 601.1,1263.4 602.2,1263.5 603.3,1263.4 604.4,1262.8 605.5,1262.4 606.6,1262.5 607.7,1262.3 608.8,1262.5 609.9,1262.9 611,1262.8 612.1,1263.1 613.2,1263.1 614.3,1263.3 615.4,1263.3 616.5,1262.7 617.6,1263.2 618.7,1263.4 619.8,1263.6 620.9,1263.6 622,1263.3 623.1,1263.3 624.2,1262.9 625.3,1263.1 626.4,1263.4 627.5,1262.8 628.6,1263.1 629.7,1262.6 630.8,1263.1 631.9,1263.1 633,1263.1 634.1,1262.6 635.2,1263.2 636.3,1262.7 637.4,1262.5 638.5,1263.1 639.6,1263.3 640.7,1263.5 641.8,1263.5 642.9,1263.4 644,1262.8 645.1,1263.1 646.2,1262.7 647.3,1263 648.4,1263.4 649.5,1263.5 650.6,1262.8 651.7,1262.7 652.8,1263 653.9,1262.8 655,1263.3 656.1,1262.8 657.2,1262.6 658.3,1262.9 659.4,1262.6 660.5,1263.1 661.6,1263.2 662.7,1262.7 663.8,1262.6 664.9,1262.7 666,1263.1 667.1,1262.8 668.2,1263.3 669.3,1263.4 670.4,1263.5 671.5,1262.8 672.6,1262.7 673.7,1262.5 674.8,1263.1 675.9,1262.8 677,1263.1 678.1,1262.8 679.2,1263.3 680.3,1262.8 681.4,1263.2 682.5,1262.9 683.6,1262.7 684.7,1263.2 685.8,1262.9 686.9,1263.4 688,1263.5 689.1,1262.8 690.2,1263.1 691.3,1262.9 692.4,1263.2 693.5,1262.7 694.6,1263 695.7,1262.7 696.8,1262.7 697.9,1263.1 699,1262.7 700.1,1263.3 701.2,1263.4"/>
<polyline class="sr" style="stroke-width:4" points="151,1264.3 152.1,1261 153.2,1256.7 154.3,1256 155.4,1252.5 156.5,1244.3 157.6,1197.2 158.7,1209.2 159.8,1238.2 160.9,1245.2 162,1254.3 163.1,1237.6 164.2,1232.1 165.3,1250.7 166.4,1236 167.5,1252 168.6,1240.9 169.7,1230.1 170.8,1164.8 171.9,1079.7 173,1092.6 174.1,964.8 175.2,1143.5 176.3,1233.3 177.4,1131.1 178.5,1082.3 179.6,1088.5 180.7,1233.3 181.8,1105.6 182.9,1232.3 184,1087.5 185.1,1179.7 186.2,1145 187.3,1203.9 188.4,1117.5 189.5,1042.8 190.6,1103.4 191.7,1208.1 192.8,1138.7 193.9,1221 195,1103.6 196.1,1175.5 197.2,1148 198.3,1209.4 199.4,1178.1 200.5,1106 201.6,1214.6 202.7,1105 203.8,1178.4 204.9,1138.9 206,1216.8 207.1,1116.7 208.2,1241.2 209.3,1240.5 210.4,1149.4 211.5,1210.3 212.6,964.8 213.7,1225.4 214.8,1179.6 215.9,1115.1 217,1180.9 218.1,1137.3 219.2,1207.9 220.3,1098.3 221.4,1214.2 222.5,1191 223.6,1098.1 224.7,1183.3 225.8,1097.8 226.9,1186.3 228,1239.3 229.1,1137 230.2,1011.6 231.3,1219.2 232.4,1106.3 233.5,1211.4 234.6,1113.1 235.7,1200.5 236.8,1062 237.9,1228.9 239,1130.1 240.1,1243.7 241.2,1123.9 242.3,1210.2 243.4,1182.6 244.5,1239.2 245.6,1180 246.7,1229.6 247.8,1191.5 248.9,1189.6 250,1215.3 251.1,1196.5 252.2,1141.1 253.3,1153.4 254.4,1229 255.5,1182.3 256.6,1221.5 257.7,1141.6 258.8,1131.2 259.9,1221.2 261,1145.8 262.1,1155.9 263.2,1206.2 264.3,1218.9 265.4,1085.4 266.5,1165.8 267.6,1215.3 268.7,1177.7 269.8,1152.5 270.9,1166.3 272,1237.4 273.1,1197.2 274.2,1188.1 275.3,1184.7 276.4,1219.5 277.5,1210.8 278.6,1213.3 279.7,1231.2 280.8,1243.3 281.9,1251.4 283,1249.5 284.1,1241.3 285.2,1250.9 286.3,1251.4 287.4,1238.5 288.6,1247.2 289.7,1252.7 290.8,1252.9 291.9,1241.6 293,1244.6 294.1,1220.1 295.2,1238.7 296.3,1232.5 297.4,1246.4 298.5,1252.3 299.6,1240.1 300.7,1251.2 301.8,1255.3 302.9,1246.6 304,1253.1 305.1,1255.5 306.2,1256.8 307.3,1248.4 308.4,1254.1 309.5,1245.3 310.6,1253.3 311.7,1245.5 312.8,1250.5 313.9,1252 315,1245.7 316.1,1243.9 317.2,1241.3 318.3,1231 319.4,1251.1 320.5,1242.6 321.6,1250.8 322.7,1238.2 323.8,1245.3 324.9,1236.8 326,1243.4 327.1,1231 328.2,1246.2 329.3,1233.5 330.4,1247 331.5,1221.3 332.6,1201.9 333.7,1216.9 334.8,1241.5 335.9,1215.9 337,1221.1 338.1,1207.6 339.2,1241.3 340.3,1215.7 341.4,1227.6 342.5,1211.2 343.6,1203.8 344.7,1183.7 345.8,1206.4 346.9,1223.6 348,1245.5 349.1,1214 350.2,1227.4 351.3,1185.8 352.4,1194.7 353.5,1233 354.6,1250.3 355.7,1228.3 356.8,1220.3 357.9,1212.3 359,1225.1 360.1,1242.1 361.2,1227.2 362.3,1212.3 363.4,1251.7 364.5,1253.5 365.6,1223.4 366.7,1218.1 367.8,1174.7 368.9,1143.7 370,1174.4 371.1,1214.5 372.2,1241.8 373.3,1197.2 374.4,1247.2 375.5,1216.3 376.6,1236.4 377.7,1217.1 378.8,1237.9 379.9,1241 381,1250.5 382.1,1217.5 383.2,1244.5 384.3,1230.1 385.4,1241.7 386.5,1248.3 387.6,1235.4 388.7,1229.9 389.8,1233.8 390.9,1234.9 392,1246.7 393.1,1204 394.2,1245.3 395.3,1220.7 396.4,1207 397.5,1212.2 398.6,1238.6 399.7,1247.5 400.8,1210.7 401.9,1195.7 403,1219.3 404.1,1233.5 405.2,1223.2 406.3,1233.8 407.4,1238.7 408.5,1247.6 409.6,1231.6 410.7,1212.3 411.8,1222.8 412.9,1226.3 414,1249.1 415.1,1225.9 416.2,1241.3 417.3,1215.6 418.4,1238 419.5,1202.4 420.6,1238.6 421.7,1254.2 422.8,1213.5 423.9,1189.9 425,1216.1 426.1,1247.1 427.2,1239.4 428.3,1237.8 429.4,1246.9 430.5,1212 431.6,1222.9 432.7,1153.5 433.8,1223.2 434.9,1226.4 436,1183.6 437.1,1153.5 438.2,1223.8 439.3,1185.2 440.4,1234.1 441.5,1180.3 442.6,1235 443.7,1153.9 444.8,1239.3 445.9,1105.2 447,1212.8 448.1,1150 449.2,1202.1 450.3,1141.6 451.4,1171.3 452.5,1106.5 453.6,1065.7 454.7,1129.9 455.8,1137.3 456.9,1236.8 458,1158.3 459.1,1129.1 460.2,1163.2 461.3,1238.3 462.4,1156.8 463.5,1207.2 464.6,1152 465.7,1236.3 466.8,1200.1 467.9,1198.5 469,1225.8 470.1,1193.1 471.2,1222.2 472.3,1234.1 473.4,1239 474.5,1241.7 475.6,1210.9 476.7,1235.3 477.8,1122.9 478.9,1231.6 480,1204.8 481.1,1240.5 482.2,1245.8 483.3,1194.6 484.4,1239.1 485.5,1207.6 486.6,1229.1 487.7,1245.6 488.8,1214.8 489.9,1238.5 491,1208.2 492.1,1200.4 493.2,1158.7 494.3,1190.9 495.4,1182 496.5,1225.6 497.6,1191.5 498.7,1228.3 499.8,1185.9 500.9,1227.4 502,1172.6 503.1,1236.5 504.2,1159.7 505.3,1202.4 506.4,1239 507.5,1108.3 508.6,1215.9 509.7,1111.1 510.8,1207.2 511.9,1103.6 513,1238 514.1,1124.8 515.2,1233.1 516.3,1141.2 517.4,1234.1 518.5,1080.2 519.6,1209.4 520.7,1151.5 521.8,1202.3 522.9,1161.1 524,1151.9 525.1,1225.4 526.2,1171.5 527.3,1224.5 528.4,1155.4 529.5,1207 530.6,1110.1 531.7,1188.7 532.8,1106.6 533.9,1184.4 535,1083.5 536.1,1062.5 537.2,1093.8 538.3,1231.2 539.4,1107.1 540.5,1214.1 541.6,1117.3 542.7,1189.6 543.8,1142.3 544.9,1122.3 546,1121 547.1,1223.1 548.2,1086.5 549.3,1068.8 550.4,1085.6 551.5,1203.4 552.6,1089.6 553.7,1090.1 554.8,1097.9 555.9,1188.9 557,1147.2 558.1,1224.4 559.2,1142.4 560.3,984 561.4,1110.7 562.5,1222.8 563.7,1126.6 564.8,1189.4 565.9,1107.5 567,1096.3 568.1,1112.4 569.2,1222.1 570.3,1107.5 571.4,1214.8 572.5,1095.4 573.6,1071.9 574.7,1103 575.8,1229.3 576.9,1153.3 578,1142.1 579.1,1233.9 580.2,1172.3 581.3,1160.3 582.4,1184.1 583.5,1166 584.6,1207.8 585.7,1168.8 586.8,1156.1 587.9,1190.6 589,1237.8 590.1,1200.8 591.2,1220.2 592.3,1183.7 593.4,1236.4 594.5,1223.2 595.6,1220 596.7,1217.5 597.8,1240.1 598.9,1237 600,1234.6 601.1,1244.7 602.2,1231.6 603.3,1230.7 604.4,1224.8 605.5,1233.3 606.6,1233.5 607.7,1251 608.8,1235.3 609.9,1237.8 611,1236.7 612.1,1234.8 613.2,1229.6 614.3,1225.8 615.4,1233.5 616.5,1235.4 617.6,1235.4 618.7,1230.9 619.8,1248.9 620.9,1233.4 622,1248.4 623.1,1254.5 624.2,1224.8 625.3,1236.3 626.4,1254.1 627.5,1257.4 628.6,1259.7 629.7,1257.3 630.8,1242.5 631.9,1254.3 633,1232.1 634.1,1256.8 635.2,1260.5 636.3,1248.7 637.4,1258 638.5,1255.9 639.6,1259.6 640.7,1261.2 641.8,1255.8 642.9,1254.7 644,1251.3 645.1,1256.4 646.2,1259.8 647.3,1252.8 648.4,1258.3 649.5,1259.4 650.6,1245.1 651.7,1253 652.8,1255.8 653.9,1259.3 655,1261.2 656.1,1256.1 657.2,1259.7 658.3,1256.7 659.4,1255.4 660.5,1259.4 661.6,1258.1 662.7,1255.7 663.8,1259.7 664.9,1256.7 666,1256.8 667.1,1255.2 668.2,1255.8 669.3,1254.9 670.4,1254.3 671.5,1255.5 672.6,1255.9 673.7,1254.7 674.8,1259 675.9,1261 677,1257.2 678.1,1254.3 679.2,1253.6 680.3,1257.7 681.4,1260.2 682.5,1255.4 683.6,1253.2 684.7,1252.8 685.8,1252.6 686.9,1254.4 688,1258.3 689.1,1250.3 690.2,1260 691.3,1261.6 692.4,1262.4 693.5,1262.2 694.6,1261.2 695.7,1257 696.8,1258.8 697.9,1258.6 699,1259.3 700.1,1261.7 701.2,1261"/>
<path class="rc" style="stroke-width:4" d="M174.1 964.8v7 M189.5 1042.8v7 M212.6 964.8v7 M230.2 1011.6v7 M236.8 1062v7 M265.4 1085.4v7 M368.9 1143.7v7 M445.9 1105.2v7 M453.6 1065.7v7 M477.8 1122.9v7 M560.3 984v7"/>
<g class="t" style="font-size:38.7px" text-anchor="end">
<text transform="translate(125.5 1276.9) scale(1 1.045)">0.00</text>
<text transform="translate(125.5 1224.9) scale(1 1.045)">1.00</text>
<text transform="translate(125.5 1172.9) scale(1 1.045)">2.00</text>
<text transform="translate(125.5 1120.9) scale(1 1.045)">3.00</text>
<text transform="translate(125.5 1068.9) scale(1 1.045)">4.00</text>
<text transform="translate(125.5 1016.9) scale(1 1.045)">5.00</text>
<text transform="translate(125.5 964.9) scale(1 1.045)">6.00</text>
<text transform="translate(125.5 912.9) scale(1 1.045)">7.00</text>
<text transform="translate(125.5 860.9) scale(1 1.045)">8.00</text>
<text transform="translate(125.5 808.9) scale(1 1.045)">9.00</text>
</g>
<g class="t" style="font-size:38.7px" text-anchor="middle">
<text transform="translate(151 1318.8) scale(1 1.045)">0</text>
<text transform="translate(206 1318.8) scale(1 1.045)">10</text>
<text transform="translate(261 1318.8) scale(1 1.045)">20</text>
<text transform="translate(316.1 1318.8) scale(1 1.045)">30</text>
<text transform="translate(371.1 1318.8) scale(1 1.045)">40</text>
<text transform="translate(426.1 1318.8) scale(1 1.045)">50</text>
<text transform="translate(481.1 1318.8) scale(1 1.045)">60</text>
<text transform="translate(536.1 1318.8) scale(1 1.045)">70</text>
<text transform="translate(591.2 1318.8) scale(1 1.045)">80</text>
<text transform="translate(646.2 1318.8) scale(1 1.045)">90</text>
<text transform="translate(701.2 1318.8) scale(1 1.045)">100</text>
<text transform="translate(426.1 1361.9) scale(1 1.045)">Frequency (Hz)</text>
<text transform="translate(40.7 1029.6) rotate(-90) scale(1.0106 1.045)">Velocity (×10<tspan dy="-14.9" style="font-size:26.7px">-7</tspan><tspan dy="14.9">m/s)</tspan></text>
</g>
<line class="lb" style="stroke-width:4" x1="509.5" y1="818.3" x2="596" y2="818.3"/>
<line class="lr" style="stroke-width:4;stroke-dasharray:16 20.2" x1="509.5" y1="866.3" x2="596" y2="866.3"/>
<g class="t" style="font-size:38.7px">
<text transform="translate(606.5 830.9) scale(1 1.045)">#P1C-x</text>
<text transform="translate(606.5 878.9) scale(1 1.045)">#P1D-x</text>
</g>
<text class="t cap" style="font-size:39.2px" text-anchor="middle" transform="translate(394.5 1451) scale(1 1.045)">(c) velocity in the x direction at noon</text>
</g>
<g class="chart" id="chart-d">
<path class="ax" style="stroke-width:4" d="M917.8 794.3 V1279.3 M902.8 1264.3 H1470.2 M910.3 1217.5 H917.8 M902.8 1170.7 H917.8 M910.3 1123.9 H917.8 M902.8 1077.1 H917.8 M910.3 1030.3 H917.8 M902.8 983.5 H917.8 M910.3 936.7 H917.8 M902.8 889.9 H917.8 M910.3 843.1 H917.8 M902.8 796.3 H917.8 M945.3 1264.3 V1271.8 M972.8 1264.3 V1279.3 M1000.4 1264.3 V1271.8 M1027.9 1264.3 V1279.3 M1055.4 1264.3 V1271.8 M1082.9 1264.3 V1279.3 M1110.4 1264.3 V1271.8 M1138 1264.3 V1279.3 M1165.5 1264.3 V1271.8 M1193 1264.3 V1279.3 M1220.5 1264.3 V1271.8 M1248 1264.3 V1279.3 M1275.6 1264.3 V1271.8 M1303.1 1264.3 V1279.3 M1330.6 1264.3 V1271.8 M1358.1 1264.3 V1279.3 M1385.6 1264.3 V1271.8 M1413.2 1264.3 V1279.3 M1440.7 1264.3 V1271.8 M1468.2 1264.3 V1279.3"/>
<polyline class="sb" style="stroke-width:4" points="917.8,1264.3 918.9,1259.1 920,1250.3 921.1,1256.6 922.2,1226.2 923.3,1243.2 924.4,1181 925.5,1251.5 926.6,1186.5 927.7,1238.2 928.8,1204.1 929.9,1228.8 931,1184.7 932.1,1227 933.2,1168.9 934.3,1203.1 935.4,1089.3 936.5,1232.8 937.6,1120.2 938.7,1189.1 939.8,1094.3 940.9,1197.3 942,1081.1 943.1,1205.5 944.2,983.5 945.3,1160.7 946.4,1052.8 947.5,1148.9 948.6,1011.5 949.7,1236.2 950.8,854.8 951.9,1175.7 953,1046 954.1,1141.6 955.2,1033.5 956.3,945.1 957.4,1056.4 958.5,1181.2 959.6,1040.6 960.7,1182.9 961.8,1011.6 962.9,1066.1 964,1146.5 965.1,1096.5 966.2,1152.2 967.3,1089.7 968.4,1049 969.5,1074.5 970.6,1220.2 971.7,1121.8 972.8,1220.9 973.9,1152.5 975,1190.8 976.1,1148 977.2,1219.9 978.3,1193.9 979.4,1096.8 980.5,1191.3 981.6,1143.6 982.7,1237.3 983.8,1181.1 984.9,1231.7 986,1181.5 987.2,1219.8 988.3,1183.8 989.4,1224.9 990.5,1202.1 991.6,1243.7 992.7,1182.9 993.8,1234.9 994.9,1198 996,1247.9 997.1,1199.7 998.2,1243.2 999.3,1234.3 1000.4,1193.2 1001.5,1239.7 1002.6,1215.2 1003.7,1239.2 1004.8,1211.2 1005.9,1239.8 1007,1226.2 1008.1,1254.6 1009.2,1224.1 1010.3,1245.6 1011.4,1223.1 1012.5,1248.6 1013.6,1224.5 1014.7,1251.2 1015.8,1228.5 1016.9,1252.2 1018,1224.7 1019.1,1251.7 1020.2,1235.7 1021.3,1252.6 1022.4,1227.6 1023.5,1251.6 1024.6,1255.6 1025.7,1239.6 1026.8,1262.1 1027.9,1249.2 1029,1247 1030.1,1260.6 1031.2,1261.3 1032.3,1261.5 1033.4,1262.1 1034.5,1257.2 1035.6,1258.8 1036.7,1257.4 1037.8,1261.4 1038.9,1258.9 1040,1249 1041.1,1249.4 1042.2,1256.6 1043.3,1249.4 1044.4,1259.2 1045.5,1252.4 1046.6,1249 1047.7,1251.6 1048.8,1261.2 1049.9,1250.7 1051,1257.7 1052.1,1253.3 1053.2,1256.6 1054.3,1260.9 1055.4,1259.9 1056.5,1261.2 1057.6,1260.2 1058.7,1260.7 1059.8,1259.4 1060.9,1261.7 1062,1259.4 1063.1,1261.4 1064.2,1259.6 1065.3,1259.4 1066.4,1259.5 1067.5,1259 1068.6,1261.6 1069.7,1261.5 1070.8,1261.9 1071.9,1261.5 1073,1261.7 1074.1,1260.5 1075.2,1259.2 1076.3,1261.5 1077.4,1259.9 1078.5,1258.5 1079.6,1259.1 1080.7,1258.7 1081.8,1261 1082.9,1260.3 1084,1259.9 1085.1,1261.5 1086.2,1262.4 1087.3,1260.9 1088.4,1262.2 1089.5,1259.6 1090.6,1261.8 1091.7,1262.8 1092.8,1263.1 1093.9,1262.3 1095,1263 1096.1,1263.3 1097.2,1260.1 1098.3,1262.1 1099.4,1261.7 1100.5,1262.1 1101.6,1260.9 1102.7,1261.2 1103.8,1259.5 1104.9,1259.4 1106,1261.3 1107.1,1259.5 1108.2,1261.8 1109.3,1260 1110.4,1261.6 1111.5,1259.8 1112.6,1258.9 1113.7,1261.1 1114.8,1259.8 1115.9,1259.9 1117,1259.9 1118.1,1261.7 1119.2,1259.9 1120.3,1261.8 1121.4,1260.8 1122.5,1261.3 1123.6,1260.4 1124.8,1259.7 1125.9,1259.4 1127,1261.6 1128.1,1260.1 1129.2,1262 1130.3,1262.9 1131.4,1260.5 1132.5,1261.3 1133.6,1262.2 1134.7,1262 1135.8,1260.3 1136.9,1261.2 1138,1260.6 1139.1,1261.6 1140.2,1262.7 1141.3,1261.2 1142.4,1262.5 1143.5,1260.7 1144.6,1262 1145.7,1262.2 1146.8,1260.6 1147.9,1259.5 1149,1261 1150.1,1259.7 1151.2,1261.2 1152.3,1261.9 1153.4,1262.8 1154.5,1260.9 1155.6,1262.2 1156.7,1260.4 1157.8,1261.7 1158.9,1260.4 1160,1261.3 1161.1,1262.2 1162.2,1260.9 1163.3,1260.3 1164.4,1259.8 1165.5,1261.5 1166.6,1260.6 1167.7,1261.6 1168.8,1262.1 1169.9,1260.9 1171,1260.8 1172.1,1259.8 1173.2,1259.3 1174.3,1259.1 1175.4,1261.2 1176.5,1260.9 1177.6,1260 1178.7,1259.6 1179.8,1259.2 1180.9,1259.4 1182,1261.3 1183.1,1260.1 1184.2,1261.5 1185.3,1262.2 1186.4,1260.6 1187.5,1261.4 1188.6,1262.4 1189.7,1262.5 1190.8,1262.8 1191.9,1262.4 1193,1263 1194.1,1261.5 1195.2,1260.6 1196.3,1262.2 1197.4,1260.7 1198.5,1260 1199.6,1260.1 1200.7,1261.6 1201.8,1262.7 1202.9,1262.6 1204,1263 1205.1,1262.7 1206.2,1261.6 1207.3,1261.2 1208.4,1262.4 1209.5,1262.6 1210.6,1262.5 1211.7,1262.4 1212.8,1262.6 1213.9,1260.9 1215,1260.2 1216.1,1261.1 1217.2,1260.7 1218.3,1260.3 1219.4,1260.6 1220.5,1260.2 1221.6,1260.4 1222.7,1261.4 1223.8,1261.9 1224.9,1262.2 1226,1261.4 1227.1,1261.1 1228.2,1261.6 1229.3,1262 1230.4,1262.2 1231.5,1262.9 1232.6,1261.9 1233.7,1262.1 1234.8,1262.3 1235.9,1262.5 1237,1262.9 1238.1,1261.7 1239.2,1261 1240.3,1261.9 1241.4,1260.1 1242.5,1261.9 1243.6,1259.5 1244.7,1257 1245.8,1253.1 1246.9,1260 1248,1256.4 1249.1,1261.2 1250.2,1255.4 1251.3,1254.5 1252.4,1261 1253.5,1254.5 1254.6,1259.8 1255.7,1261.1 1256.8,1251.2 1257.9,1258.4 1259,1259.9 1260.1,1257.9 1261.2,1255 1262.4,1261 1263.5,1262.6 1264.6,1254.9 1265.7,1261.9 1266.8,1263 1267.9,1263.1 1269,1263.4 1270.1,1263.4 1271.2,1262.5 1272.3,1262.9 1273.4,1262.2 1274.5,1262.7 1275.6,1263.2 1276.7,1263.3 1277.8,1263.5 1278.9,1263.4 1280,1262.5 1281.1,1262.1 1282.2,1262.1 1283.3,1262.7 1284.4,1263.2 1285.5,1263.1 1286.6,1262.5 1287.7,1263.1 1288.8,1262.6 1289.9,1262.1 1291,1262.7 1292.1,1262.5 1293.2,1263.2 1294.3,1262.5 1295.4,1263 1296.5,1262.7 1297.6,1263.2 1298.7,1263.5 1299.8,1262.6 1300.9,1262.4 1302,1262.1 1303.1,1261.9 1304.2,1262.1 1305.3,1262.8 1306.4,1262.3 1307.5,1262.2 1308.6,1262 1309.7,1262.4 1310.8,1262.8 1311.9,1262.2 1313,1262.8 1314.1,1262.5 1315.2,1262.4 1316.3,1262.1 1317.4,1262.6 1318.5,1262.3 1319.6,1262.3 1320.7,1262.1 1321.8,1261.9 1322.9,1262.8 1324,1263 1325.1,1262.3 1326.2,1262.7 1327.3,1262.8 1328.4,1262.2 1329.5,1262.8 1330.6,1263 1331.7,1263.3 1332.8,1262.7 1333.9,1262.2 1335,1262.9 1336.1,1262.5 1337.2,1263 1338.3,1262.3 1339.4,1262.3 1340.5,1263 1341.6,1263.3 1342.7,1262.6 1343.8,1263.1 1344.9,1263.1 1346,1262.7 1347.1,1263 1348.2,1262.5 1349.3,1262.8 1350.4,1262.3 1351.5,1262.1 1352.6,1262.7 1353.7,1263 1354.8,1262.3 1355.9,1262.1 1357,1262 1358.1,1262.7 1359.2,1263 1360.3,1262.5 1361.4,1262.1 1362.5,1262 1363.6,1262.1 1364.7,1263 1365.8,1262.3 1366.9,1262.8 1368,1263.2 1369.1,1262.6 1370.2,1263.2 1371.3,1262.5 1372.4,1263.2 1373.5,1263.4 1374.6,1262.4 1375.7,1263.1 1376.8,1263.5 1377.9,1263.5 1379,1263.5 1380.1,1263.2 1381.2,1263.5 1382.3,1262.5 1383.4,1263 1384.5,1262.4 1385.6,1262.3 1386.7,1262.2 1387.8,1263.1 1388.9,1263.5 1390,1263.6 1391.1,1263.6 1392.2,1262.9 1393.3,1262.3 1394.4,1263 1395.5,1262.3 1396.6,1262.9 1397.7,1262.3 1398.8,1263 1400,1263.1 1401.1,1263.5 1402.2,1262.9 1403.3,1263.3 1404.4,1262.6 1405.5,1263.1 1406.6,1263.1 1407.7,1263.1 1408.8,1263.5 1409.9,1263.6 1411,1262.8 1412.1,1262.4 1413.2,1263.1 1414.3,1263.5 1415.4,1263.3 1416.5,1263.6 1417.6,1263.6 1418.7,1263 1419.8,1262.2 1420.9,1262.1 1422,1262.9 1423.1,1262.3 1424.2,1262.4 1425.3,1262.2 1426.4,1262.9 1427.5,1262.3 1428.6,1262.8 1429.7,1262.2 1430.8,1262.7 1431.9,1262.4 1433,1263.1 1434.1,1262.8 1435.2,1262.2 1436.3,1262 1437.4,1262.6 1438.5,1263.1 1439.6,1262.4 1440.7,1262.8 1441.8,1262.4 1442.9,1262 1444,1262.6 1445.1,1262.5 1446.2,1263 1447.3,1262.4 1448.4,1262.8 1449.5,1263.4 1450.6,1262.5 1451.7,1262.1 1452.8,1262.9 1453.9,1262.4 1455,1263.2 1456.1,1263.3 1457.2,1263.6 1458.3,1263.6 1459.4,1262.6 1460.5,1262.4 1461.6,1263.1 1462.7,1262.5 1463.8,1263.1 1464.9,1263.1 1466,1263.6 1467.1,1263.6 1468.2,1262.7"/>
<polyline class="sr" style="stroke-width:4" points="917.8,1264.3 918.9,1260 920,1254.8 921.1,1247.7 922.2,1249.2 923.3,1219.1 924.4,1179.1 925.5,1219.4 926.6,1246.7 927.7,1258.5 928.8,1260.9 929.9,1245.4 931,1229.3 932.1,1237 933.2,1229.3 934.3,1216.4 935.4,1109.9 936.5,1213.6 937.6,1121.2 938.7,1205.7 939.8,1061.5 940.9,1220.4 942,1042.2 943.1,1218 944.2,1002.2 945.3,1220.8 946.4,1092.2 947.5,1188.4 948.6,917 949.7,1209.5 950.8,1186.5 951.9,1073.2 953,1020.9 954.1,1026.7 955.2,1218 956.3,1020.9 957.4,1215 958.5,1053.7 959.6,1204.7 960.7,1046.5 961.8,1032.2 962.9,1108 964,1222.1 965.1,1205.9 966.2,1083.4 967.3,1202.6 968.4,1111.7 969.5,1216.8 970.6,1213.5 971.7,1193.3 972.8,1139.1 973.9,1099.6 975,1127.5 976.1,1219.7 977.2,1140.8 978.3,1229.8 979.4,1076.3 980.5,1182.5 981.6,1054.6 982.7,1237.9 983.8,1090.2 984.9,1214.7 986,1050.9 987.2,1179.6 988.3,1125.9 989.4,1075.2 990.5,1148.3 991.6,1226.9 992.7,1115.5 993.8,1244.9 994.9,1147.8 996,1207.6 997.1,1139.4 998.2,1217.2 999.3,1137 1000.4,1164.6 1001.5,1229.9 1002.6,1154.1 1003.7,1226 1004.8,1156.4 1005.9,1224.3 1007,1187.1 1008.1,1153 1009.2,1147.3 1010.3,1166.8 1011.4,1179.8 1012.5,1222.5 1013.6,1245.1 1014.7,1202.4 1015.8,1235.6 1016.9,1109.9 1018,1248.8 1019.1,1207.7 1020.2,1199.1 1021.3,1235.6 1022.4,1209.7 1023.5,1228.5 1024.6,1221.6 1025.7,1245.4 1026.8,1241.1 1027.9,1239 1029,1248.4 1030.1,1211.3 1031.2,1243.3 1032.3,1217.7 1033.4,1229.7 1034.5,1173.5 1035.6,1211 1036.7,1233.9 1037.8,1213.8 1038.9,1208.1 1040,1234.7 1041.1,1218.8 1042.2,1232 1043.3,1222 1044.4,1244.6 1045.5,1215.3 1046.6,1244.4 1047.7,1183.8 1048.8,1207.8 1049.9,1234.1 1051,1207.2 1052.1,1228.9 1053.2,1180.2 1054.3,1152.9 1055.4,1194.2 1056.5,1182.9 1057.6,1230.1 1058.7,1206.2 1059.8,1229.3 1060.9,1208.1 1062,1219.6 1063.1,1222.3 1064.2,1233.8 1065.3,1248 1066.4,1250.4 1067.5,1244 1068.6,1228.4 1069.7,1242.4 1070.8,1234 1071.9,1224.1 1073,1227.1 1074.1,1237.9 1075.2,1248.3 1076.3,1232.5 1077.4,1221.2 1078.5,1248.3 1079.6,1248 1080.7,1226 1081.8,1236 1082.9,1243.7 1084,1245.5 1085.1,1220.1 1086.2,1206.3 1087.3,1236.9 1088.4,1248.3 1089.5,1212.7 1090.6,1215.6 1091.7,1236.6 1092.8,1219.9 1093.9,1187.5 1095,1214.9 1096.1,1236.2 1097.2,1228.9 1098.3,1230.1 1099.4,1228.5 1100.5,1225.3 1101.6,1231.2 1102.7,1241.6 1103.8,1230.9 1104.9,1226.9 1106,1243.2 1107.1,1161.3 1108.2,1174.4 1109.3,1239.2 1110.4,1242.5 1111.5,1254.2 1112.6,1254.6 1113.7,1252.7 1114.8,1128.6 1115.9,1243.1 1117,1194.4 1118.1,1171.6 1119.2,1200.8 1120.3,1223.4 1121.4,1199.2 1122.5,1232.9 1123.6,1182.3 1124.8,1170.7 1125.9,1210.8 1127,1245.4 1128.1,1206.6 1129.2,1244 1130.3,1214.2 1131.4,1215.8 1132.5,1205.3 1133.6,1239.9 1134.7,1208.4 1135.8,1237 1136.9,1202.1 1138,1245 1139.1,1170.7 1140.2,1182.7 1141.3,1235.8 1142.4,1194.6 1143.5,1179.1 1144.6,1244.9 1145.7,1187.5 1146.8,1171.6 1147.9,1253.7 1149,1201.5 1150.1,1232.6 1151.2,1188.2 1152.3,1246.7 1153.4,1206.5 1154.5,1174.4 1155.6,1220 1156.7,1249.8 1157.8,1233 1158.9,1222.2 1160,1244.6 1161.1,1245.1 1162.2,1249.4 1163.3,1251.9 1164.4,1252.3 1165.5,1227.8 1166.6,1238.5 1167.7,1247.8 1168.8,1251.9 1169.9,1254.7 1171,1244.6 1172.1,1252.1 1173.2,1255.3 1174.3,1249.1 1175.4,1244.4 1176.5,1250.8 1177.6,1245.4 1178.7,1249.4 1179.8,1252 1180.9,1252.7 1182,1245.6 1183.1,1249.9 1184.2,1010.6 1185.3,1246 1186.4,1243.1 1187.5,1251.4 1188.6,1240.6 1189.7,1247.5 1190.8,1237.2 1191.9,1249.8 1193,1226.9 1194.1,1241.5 1195.2,1248.7 1196.3,1241 1197.4,1250.6 1198.5,1243.1 1199.6,1242.1 1200.7,1244.9 1201.8,1252.8 1202.9,1247.3 1204,1244.2 1205.1,1244.9 1206.2,1244.9 1207.3,1242.4 1208.4,1251.5 1209.5,1246.6 1210.6,1242.7 1211.7,1243.7 1212.8,1250.1 1213.9,1254.5 1215,1251.8 1216.1,1237 1217.2,1242.6 1218.3,1247.1 1219.4,1210 1220.5,1245.1 1221.6,1199.7 1222.7,1211.2 1223.8,1221.6 1224.9,1238.1 1226,1192.4 1227.1,1165.1 1228.2,1224.3 1229.3,1202.8 1230.4,1218.6 1231.5,1188.8 1232.6,1171.6 1233.7,1216.3 1234.8,1187.4 1235.9,1214.9 1237,1194.1 1238.1,1161.3 1239.2,1163.6 1240.3,1210.3 1241.4,1145.7 1242.5,1223.6 1243.6,1037.8 1244.7,1190.4 1245.8,1099.6 1246.9,1180.6 1248,1127.4 1249.1,1190.4 1250.2,1114.7 1251.3,1182.8 1252.4,1066.8 1253.5,1209.3 1254.6,1042.7 1255.7,1190.1 1256.8,904.9 1257.9,1197.1 1259,925.7 1260.1,1205.9 1261.2,1005.7 1262.4,1200.3 1263.5,925.5 1264.6,1078.6 1265.7,1161.3 1266.8,1186.1 1267.9,1233.9 1269,1210.9 1270.1,1210 1271.2,1221.7 1272.3,1230.4 1273.4,1238.4 1274.5,1238.1 1275.6,1248.1 1276.7,1250.2 1277.8,1252.8 1278.9,1256.8 1280,1252.2 1281.1,1249.2 1282.2,1246 1283.3,1245.4 1284.4,1242 1285.5,1237.2 1286.6,1248.6 1287.7,1245.1 1288.8,1246.4 1289.9,1243.7 1291,1256.2 1292.1,1258.9 1293.2,1248.7 1294.3,1254.9 1295.4,1258 1296.5,1250.4 1297.6,1245.9 1298.7,1246.9 1299.8,1239 1300.9,1249.1 1302,1256.2 1303.1,1257.7 1304.2,1260.3 1305.3,1258.6 1306.4,1258.1 1307.5,1259.9 1308.6,1260.1 1309.7,1260.5 1310.8,1258.4 1311.9,1259.8 1313,1258.3 1314.1,1259.1 1315.2,1260 1316.3,1259.7 1317.4,1260.6 1318.5,1259.2 1319.6,1259.9 1320.7,1260.7 1321.8,1260.6 1322.9,1258.5 1324,1260 1325.1,1260 1326.2,1257.8 1327.3,1257.7 1328.4,1258.7 1329.5,1253.6 1330.6,1246.5 1331.7,1251.4 1332.8,1251.3 1333.9,1250.7 1335,1256.6 1336.1,1257.9 1337.2,1259.5 1338.3,1251.2 1339.4,1254.9 1340.5,1255.1 1341.6,1257.7 1342.7,1251.4 1343.8,1246 1344.9,1241.8 1346,1255.6 1347.1,1257.1 1348.2,1257.6 1349.3,1248.4 1350.4,1251.6 1351.5,1251.4 1352.6,1252 1353.7,1253.4 1354.8,1255.9 1355.9,1253.1 1357,1254.2 1358.1,1255.6 1359.2,1253.6 1360.3,1245.6 1361.4,1251.9 1362.5,1231.5 1363.6,1252.1 1364.7,1247.4 1365.8,1246.6 1366.9,1245.6 1368,1247.6 1369.1,1246.4 1370.2,1247.5 1371.3,1246.1 1372.4,1252.4 1373.5,1252.9 1374.6,1240.9 1375.7,1247.8 1376.8,1244.6 1377.9,1242.1 1379,1248 1380.1,1239 1381.2,1243.6 1382.3,1241.7 1383.4,1251 1384.5,1226.9 1385.6,1255.9 1386.7,1239.9 1387.8,1223.1 1388.9,1237.5 1390,1250.5 1391.1,1245.6 1392.2,1254.4 1393.3,1250.1 1394.4,1254.2 1395.5,1247.2 1396.6,1238.1 1397.7,1253.5 1398.8,1254.1 1400,1235.3 1401.1,1253.2 1402.2,1245.6 1403.3,1251.6 1404.4,1245.6 1405.5,1251 1406.6,1255.1 1407.7,1257.4 1408.8,1254.8 1409.9,1257.7 1411,1251.2 1412.1,1254.5 1413.2,1254.4 1414.3,1255.4 1415.4,1254.9 1416.5,1259.2 1417.6,1257.6 1418.7,1258.7 1419.8,1257.7 1420.9,1256.5 1422,1256.5 1423.1,1256.7 1424.2,1257 1425.3,1254.9 1426.4,1256.6 1427.5,1259.3 1428.6,1260.9 1429.7,1259.6 1430.8,1261.1 1431.9,1260.9 1433,1261 1434.1,1261.7 1435.2,1261.9 1436.3,1261.8 1437.4,1261 1438.5,1261 1439.6,1261.5 1440.7,1261.9 1441.8,1261.9 1442.9,1262.1 1444,1261.9 1445.1,1262.1 1446.2,1262.3 1447.3,1262.3 1448.4,1262 1449.5,1262.2 1450.6,1262.3 1451.7,1261.9 1452.8,1262 1453.9,1262.5 1455,1262.2 1456.1,1262.6 1457.2,1262.3 1458.3,1262.7 1459.4,1262.8 1460.5,1263 1461.6,1263.2 1462.7,1262.2 1463.8,1262.8 1464.9,1263.2 1466,1262.4 1467.1,1262.2 1468.2,1262.8"/>
<path class="rc" style="stroke-width:4" d="M948.6 917v7 M1016.9 1109.9v7 M1114.8 1128.6v7 M1184.2 1010.6v7 M1243.6 1037.8v7"/>
<g class="t" style="font-size:38.7px" text-anchor="end">
<text transform="translate(892.3 1276.9) scale(1 1.045)">0.00</text>
<text transform="translate(892.3 1183.3) scale(1 1.045)">1.00</text>
<text transform="translate(892.3 1089.7) scale(1 1.045)">2.00</text>
<text transform="translate(892.3 996.1) scale(1 1.045)">3.00</text>
<text transform="translate(892.3 902.5) scale(1 1.045)">4.00</text>
<text transform="translate(892.3 808.9) scale(1 1.045)">5.00</text>
</g>
<g class="t" style="font-size:38.7px" text-anchor="middle">
<text transform="translate(917.8 1318.8) scale(1 1.045)">0</text>
<text transform="translate(972.8 1318.8) scale(1 1.045)">10</text>
<text transform="translate(1027.9 1318.8) scale(1 1.045)">20</text>
<text transform="translate(1082.9 1318.8) scale(1 1.045)">30</text>
<text transform="translate(1138 1318.8) scale(1 1.045)">40</text>
<text transform="translate(1193 1318.8) scale(1 1.045)">50</text>
<text transform="translate(1248 1318.8) scale(1 1.045)">60</text>
<text transform="translate(1303.1 1318.8) scale(1 1.045)">70</text>
<text transform="translate(1358.1 1318.8) scale(1 1.045)">80</text>
<text transform="translate(1413.2 1318.8) scale(1 1.045)">90</text>
<text transform="translate(1468.2 1318.8) scale(1 1.045)">100</text>
<text transform="translate(1193 1361.9) scale(1 1.045)">Frequency (Hz)</text>
<text transform="translate(807.5 1029.6) rotate(-90) scale(1.0106 1.045)">Velocity (×10<tspan dy="-14.9" style="font-size:26.7px">-7</tspan><tspan dy="14.9">m/s)</tspan></text>
</g>
<line class="lb" style="stroke-width:4" x1="1276.4" y1="818.3" x2="1363" y2="818.3"/>
<line class="lr" style="stroke-width:4;stroke-dasharray:16 20.2" x1="1276.4" y1="866.3" x2="1363" y2="866.3"/>
<g class="t" style="font-size:38.7px">
<text transform="translate(1373.5 830.9) scale(1 1.045)">#P1C-x</text>
<text transform="translate(1373.5 878.9) scale(1 1.045)">#P1D-x</text>
</g>
<text class="t cap" style="font-size:39.2px" text-anchor="middle" transform="translate(1161 1451) scale(1 1.045)">(d) velocity in the x direction at night</text>
</g>
<g class="chart" id="chart-e">
<path class="ax" style="stroke-width:4" d="M148.8 1566.5 V2055.4 M133.7 2040.3 H705.6 M141.2 2014.1 H148.8 M133.7 1987.9 H148.8 M141.2 1961.7 H148.8 M133.7 1935.5 H148.8 M141.2 1909.2 H148.8 M133.7 1883 H148.8 M141.2 1856.8 H148.8 M133.7 1830.6 H148.8 M141.2 1804.4 H148.8 M133.7 1778.2 H148.8 M141.2 1752 H148.8 M133.7 1725.8 H148.8 M141.2 1699.6 H148.8 M133.7 1673.3 H148.8 M141.2 1647.1 H148.8 M133.7 1620.9 H148.8 M141.2 1594.7 H148.8 M133.7 1568.5 H148.8 M176.5 2040.3 V2047.9 M204.3 2040.3 V2055.4 M232 2040.3 V2047.9 M259.8 2040.3 V2055.4 M287.5 2040.3 V2047.9 M315.2 2040.3 V2055.4 M343 2040.3 V2047.9 M370.7 2040.3 V2055.4 M398.5 2040.3 V2047.9 M426.2 2040.3 V2055.4 M453.9 2040.3 V2047.9 M481.7 2040.3 V2055.4 M509.4 2040.3 V2047.9 M537.2 2040.3 V2055.4 M564.9 2040.3 V2047.9 M592.6 2040.3 V2055.4 M620.4 2040.3 V2047.9 M648.1 2040.3 V2055.4 M675.9 2040.3 V2047.9 M703.6 2040.3 V2055.4"/>
<polyline class="sb" style="stroke-width:4" points="148.8,2040.3 149.9,2031.3 151,2003.4 152.1,2025.3 153.2,2009 154.3,1928.6 155.5,2016.1 156.6,2014.5 157.7,1831.1 158.8,1957.2 159.9,2001.9 161,1975.2 162.1,2008.3 163.2,1983.4 164.3,1963.8 165.4,1985.9 166.6,2005.1 167.7,2002.1 168.8,1849.5 169.9,2018.7 171,2006.9 172.1,1893.5 173.2,2013.4 174.3,2014.7 175.4,1888.3 176.5,2004.3 177.6,1907.8 178.8,1992.3 179.9,1984.5 181,1958.5 182.1,1946.9 183.2,1999.1 184.3,1943.8 185.4,1976.7 186.5,1898.1 187.6,1865.7 188.7,1904.1 189.9,2008.7 191,1920.6 192.1,1972.5 193.2,1913.4 194.3,1995.4 195.4,1996.9 196.5,1914.4 197.6,2011.6 198.7,1913.6 199.8,2012.3 201,1937.9 202.1,1886.7 203.2,1931.5 204.3,1999.4 205.4,2008.7 206.5,1944.4 207.6,2003.2 208.7,1950.2 209.8,1865.7 210.9,1991.5 212,1955.6 213.2,2010.8 214.3,1947.9 215.4,2003.4 216.5,1952.9 217.6,1927.1 218.7,1930.6 219.8,2016.2 220.9,1923.5 222,2013.2 223.1,1924.9 224.3,1845.3 225.4,1981 226.5,1926.7 227.6,1990.6 228.7,1940.9 229.8,1896.7 230.9,1927.9 232,2000 233.1,1948.2 234.2,2026.9 235.3,1938.1 236.5,2015 237.6,1973.6 238.7,2009.2 239.8,1978.2 240.9,2024.2 242,1977.9 243.1,1980 244.2,2033.9 245.3,2033.5 246.4,1994.5 247.6,2024.3 248.7,1996.1 249.8,2004.1 250.9,2024.5 252,2031.8 253.1,1993.3 254.2,1993.1 255.3,2036.6 256.4,1995.7 257.5,2037.7 258.7,2007.4 259.8,1948.6 260.9,2008 262,2037.8 263.1,2007 264.2,2037.3 265.3,2000.8 266.4,1993.1 267.5,2004.7 268.6,2034 269.7,2000.4 270.9,2028 272,1993.9 273.1,1990.5 274.2,2000.7 275.3,2034.9 276.4,2012 277.5,2037.7 278.6,2012.1 279.7,2026.8 280.8,2014.2 282,2035.2 283.1,2012.2 284.2,2014.1 285.3,2021.3 286.4,2036.7 287.5,2019 288.6,2037.8 289.7,2021.5 290.8,2037.2 291.9,2022.5 293,2035.5 294.2,2017.9 295.3,2030.5 296.4,2017.2 297.5,2030.6 298.6,2025.1 299.7,2031.9 300.8,2033.7 301.9,2017.8 303,2031.3 304.1,1997.3 305.3,2036.7 306.4,2007.1 307.5,2028.8 308.6,2017.2 309.7,2037.2 310.8,2022.4 311.9,2031.7 313,2019.8 314.1,2033.6 315.2,2023.2 316.3,2034.7 317.5,2024.7 318.6,2032.8 319.7,2017.2 320.8,2037.1 321.9,2022.5 323,2035.6 324.1,2018 325.2,2033.2 326.3,2009.2 327.4,2030.4 328.6,1997.3 329.7,2034.9 330.8,2007.5 331.9,2023.7 333,2036.7 334.1,1999 335.2,1997.3 336.3,2013.5 337.4,2034.4 338.5,2012.3 339.7,2024.1 340.8,2031.8 341.9,1909.2 343,2027.6 344.1,2005.8 345.2,2034.3 346.3,2007.9 347.4,2024.7 348.5,1994.3 349.6,2031.6 350.7,1991.4 351.9,2017.9 353,1978 354.1,1969.5 355.2,1994.5 356.3,2031.8 357.4,1981.5 358.5,2034.8 359.6,1992.1 360.7,1996.4 361.8,2018.6 363,1991 364.1,2030.3 365.2,1994.5 366.3,2032.2 367.4,1983.1 368.5,1946.5 369.6,2000.9 370.7,2031.2 371.8,1978.1 372.9,2012 374,1980.3 375.2,1970.6 376.3,1995.8 377.4,1985 378.5,2027 379.6,1987.9 380.7,2029.4 381.8,2033.4 382.9,2014.6 384,1986.8 385.1,1976.4 386.3,2034.3 387.4,1981.8 388.5,1969 389.6,1997.5 390.7,2027.7 391.8,2008.6 392.9,2025.7 394,2010.3 395.1,2033.4 396.2,2001.2 397.4,2021.2 398.5,1985.3 399.6,1996.9 400.7,1978.4 401.8,1989.5 402.9,2036.2 404,2006.2 405.1,2034.6 406.2,2012.6 407.3,2033.5 408.4,2008.9 409.6,2029.6 410.7,2013.7 411.8,2027.2 412.9,2017.8 414,2036.3 415.1,2018.7 416.2,2033.4 417.3,2012.5 418.4,2033.6 419.5,2013.7 420.7,2032.4 421.8,2016.1 422.9,2029.2 424,2013.9 425.1,2033 426.2,2014.1 427.3,2036.7 428.4,2018.5 429.5,2035.1 430.6,2005.6 431.7,2030.2 432.9,1994.7 434,2036.5 435.1,2005.8 436.2,2027.5 437.3,2018.3 438.4,2019.2 439.5,2031.8 440.6,2036.5 441.7,2021.6 442.8,2035.8 444,2019.9 445.1,2032.1 446.2,2024.8 447.3,2031.1 448.4,2021.2 449.5,2036.2 450.6,2034.2 451.7,2022.7 452.8,2036.4 453.9,2018.3 455,2035.4 456.2,2037 457.3,2022.5 458.4,2033.2 459.5,2027 460.6,2034.7 461.7,2025.6 462.8,2022.5 463.9,2033.9 465,2023.6 466.1,2034 467.3,2021.9 468.4,2035.2 469.5,2032.2 470.6,2022.5 471.7,2033.9 472.8,2024.8 473.9,2035.7 475,2036 476.1,2028.5 477.2,2035.1 478.4,2024.6 479.5,2032.4 480.6,2027.2 481.7,2022 482.8,2027.4 483.9,2036.2 485,2027.7 486.1,2036.2 487.2,2028.4 488.3,2035.9 489.4,2026.9 490.6,2035.4 491.7,2030.9 492.8,2036 493.9,2030.8 495,2035 496.1,2037.3 497.2,2037.5 498.3,2031.4 499.4,2029 500.5,2032.7 501.7,2029.8 502.8,2029.9 503.9,2029.3 505,2029.6 506.1,2034.6 507.2,2031.9 508.3,2032.4 509.4,2029.8 510.5,2035.9 511.6,2036.4 512.7,2033.8 513.9,2033.3 515,2036.4 516.1,2034 517.2,2033.2 518.3,2035.3 519.4,2037.4 520.5,2035.7 521.6,2037.6 522.7,2035.8 523.8,2037.3 525,2036.4 526.1,2035.1 527.2,2036.2 528.3,2035.8 529.4,2035.5 530.5,2037 531.6,2034.6 532.7,2035.5 533.8,2033.7 534.9,2031.4 536.1,2036.2 537.2,2028.8 538.3,2036.5 539.4,2034.6 540.5,2036.1 541.6,2038.2 542.7,2038.7 543.8,2039.1 544.9,2039.1 546,2038.4 547.1,2038.9 548.3,2039.3 549.4,2038.4 550.5,2039 551.6,2038.4 552.7,2037.9 553.8,2037.7 554.9,2038.5 556,2038.6 557.1,2038.4 558.2,2038 559.4,2037.9 560.5,2037.5 561.6,2038.6 562.7,2038 563.8,2038.9 564.9,2039.3 566,2039.4 567.1,2038.4 568.2,2037.7 569.3,2037.8 570.4,2037.5 571.6,2037.2 572.7,2038.1 573.8,2038.5 574.9,2038.2 576,2038.9 577.1,2039.4 578.2,2039.2 579.3,2038.1 580.4,2038.7 581.5,2038 582.7,2037.5 583.8,2038.2 584.9,2038.8 586,2038.7 587.1,2039.2 588.2,2039.5 589.3,2037.9 590.4,2036.1 591.5,2038 592.6,2038.7 593.7,2038.6 594.9,2039.3 596,2039.6 597.1,2039.7 598.2,2039.2 599.3,2039.5 600.4,2039.2 601.5,2039.1 602.6,2039.5 603.7,2039.5 604.8,2039.2 606,2039.3 607.1,2039.5 608.2,2039.5 609.3,2039.6 610.4,2039.7 611.5,2039.2 612.6,2039.6 613.7,2039.7 614.8,2039.6 615.9,2039.4 617.1,2039.6 618.2,2039.6 619.3,2039.7 620.4,2039.3 621.5,2039.1 622.6,2039.3 623.7,2039.5 624.8,2039.7 625.9,2039.7 627,2039.3 628.1,2039.6 629.3,2039.7 630.4,2039.6 631.5,2039.4 632.6,2039.5 633.7,2039.3 634.8,2039.2 635.9,2039.5 637,2039.1 638.1,2039 639.2,2039.3 640.4,2039.5 641.5,2039.1 642.6,2039 643.7,2038.9 644.8,2039.4 645.9,2039.6 647,2039.8 648.1,2039.9 649.2,2039.4 650.3,2039.3 651.4,2039.4 652.6,2039.1 653.7,2039.1 654.8,2039.5 655.9,2039.5 657,2039.1 658.1,2039 659.2,2039.3 660.3,2039.3 661.4,2039.6 662.5,2039.3 663.7,2039.4 664.8,2039.7 665.9,2039.3 667,2039.1 668.1,2039 669.2,2039.5 670.3,2039.7 671.4,2039.6 672.5,2039.8 673.6,2039.8 674.8,2039.3 675.9,2039.5 677,2039.2 678.1,2039 679.2,2039.5 680.3,2039.4 681.4,2039.2 682.5,2039.1 683.6,2039.2 684.7,2039.5 685.8,2039.3 687,2039.6 688.1,2039.4 689.2,2039.7 690.3,2039.5 691.4,2039.3 692.5,2039.6 693.6,2039.8 694.7,2039.3 695.8,2039.7 696.9,2039.3 698.1,2039.5 699.2,2039.6 700.3,2039.3 701.4,2039.2 702.5,2039 703.6,2039"/>
<polyline class="sr" style="stroke-width:4" points="148.8,2040.3 149.9,2038.8 151,2037.6 152.1,2037 153.2,2035.1 154.3,2014.4 155.5,1983.7 156.6,1997.8 157.7,2023.8 158.8,2007.4 159.9,2007.6 161,2014.2 162.1,2018.5 163.2,2015.6 164.3,2007.1 165.4,2015.9 166.6,1977.4 167.7,2003.3 168.8,1903 169.9,1992.5 171,1918.8 172.1,1986 173.2,1926.8 174.3,1996.4 175.4,1945.8 176.5,1987.9 177.6,1941.9 178.8,1978.1 179.9,1910.8 181,1939.3 182.1,1967.3 183.2,1908 184.3,1970.6 185.4,1931.9 186.5,1982 187.6,1876.2 188.7,1978.8 189.9,1901.5 191,2007.6 192.1,1901.9 193.2,1985.3 194.3,1930.4 195.4,1903 196.5,1927.4 197.6,2005 198.7,1888.3 199.8,2005 201,1939.6 202.1,1980.2 203.2,1906.6 204.3,1943.2 205.4,1992 206.5,1950.5 207.6,2005.9 208.7,1924.2 209.8,1912.4 210.9,1921.7 212,1915.6 213.2,1986.8 214.3,1929.7 215.4,1892.5 216.5,1905.5 217.6,1998.9 218.7,1898.4 219.8,1970.7 220.9,1926.7 222,1995.7 223.1,1928.9 224.3,1887.8 225.4,1904.6 226.5,2018.5 227.6,1908.1 228.7,1906.6 229.8,1933.6 230.9,1990.3 232,1940.4 233.1,2004.4 234.2,1921.8 235.3,2022.6 236.5,1962.2 237.6,2016.9 238.7,1977.9 239.8,1952.8 240.9,2004.2 242,1964.5 243.1,1961.6 244.2,2015.2 245.3,1978 246.4,2023.7 247.6,1987 248.7,1949.6 249.8,1929.7 250.9,1952.2 252,1945.8 253.1,2009.1 254.2,1962.1 255.3,1919.2 256.4,1945.5 257.5,2003 258.7,1937 259.8,1885.7 260.9,1900.2 262,1909.2 263.1,2015.7 264.2,1950.1 265.3,1930.9 266.4,2010 267.5,1955.5 268.6,1911.3 269.7,1930.9 270.9,2019 272,1965.9 273.1,1990.4 274.2,1941.3 275.3,2010.3 276.4,1952.7 277.5,1967.4 278.6,1988.5 279.7,1864.7 280.8,1938.3 282,2019.2 283.1,1972.3 284.2,1922.9 285.3,2003.5 286.4,1945.7 287.5,1995 288.6,1934.7 289.7,1991.1 290.8,1915 291.9,1995.6 293,1951.2 294.2,2009.2 295.3,1939 296.4,1931.8 297.5,1976.2 298.6,1956.6 299.7,1963.8 300.8,2018.8 301.9,1992.1 303,1973.5 304.1,2016.1 305.3,2023.1 306.4,1983.8 307.5,2023.7 308.6,1987.3 309.7,2018.4 310.8,1972.7 311.9,2021.2 313,2000.5 314.1,1997.7 315.2,2016.1 316.3,1985.3 317.5,2026.5 318.6,1995 319.7,2015.4 320.8,2026.1 321.9,1995.5 323,2023.9 324.1,2002.2 325.2,1980.6 326.3,1992.9 327.4,1976.6 328.6,1966.9 329.7,1984.3 330.8,2004 331.9,2022.3 333,1973.7 334.1,1964 335.2,2023 336.3,1985 337.4,1949.1 338.5,1974.1 339.7,1937.3 340.8,1885.1 341.9,1766.7 343,1870.2 344.1,1914.9 345.2,2020.6 346.3,1986.9 347.4,2020.6 348.5,1954.9 349.6,2005.2 350.7,2017.8 351.9,2006.6 353,2022.3 354.1,1992 355.2,1973.9 356.3,2016.9 357.4,1958 358.5,2014 359.6,1979.8 360.7,2020.4 361.8,1985.8 363,2008.2 364.1,1965.3 365.2,1975.6 366.3,2016.5 367.4,2026.7 368.5,1995 369.6,1994.1 370.7,2017.1 371.8,1993.3 372.9,2016.3 374,2012.6 375.2,1992.2 376.3,2014.3 377.4,1990 378.5,1986.1 379.6,2013.9 380.7,1993 381.8,1975.8 382.9,1999 384,1994.1 385.1,2014.5 386.3,1992.6 387.4,1989.2 388.5,1991.8 389.6,2020.2 390.7,2007.9 391.8,1998.2 392.9,1999.9 394,1996.8 395.1,1986.6 396.2,2014.6 397.4,1988.1 398.5,2008.8 399.6,1979.9 400.7,2009.5 401.8,1963.8 402.9,2002.3 404,2007.6 405.1,1970.5 406.2,2016.4 407.3,1990.3 408.4,1965 409.6,1999.3 410.7,2016.2 411.8,1979.4 412.9,2005.6 414,1947 415.1,1961.7 416.2,2018 417.3,1984.7 418.4,2012.6 419.5,1980.7 420.7,2010.8 421.8,2027.3 422.9,1985.9 424,1963.8 425.1,1980.4 426.2,2020.1 427.3,1992.4 428.4,1985.6 429.5,1974.8 430.6,2000.8 431.7,1967.7 432.9,2013.1 434,1825.4 435.1,2007 436.2,1948.7 437.3,1975.5 438.4,1896.7 439.5,1998.8 440.6,1929.3 441.7,1908.2 442.8,1946.4 444,2005.8 445.1,1940 446.2,2008.4 447.3,1931.8 448.4,1980.9 449.5,1955.5 450.6,2006.3 451.7,1934.8 452.8,2012.3 453.9,1957.3 455,1994.5 456.2,1922.5 457.3,1896.7 458.4,1913.4 459.5,2002.1 460.6,1917.2 461.7,2010 462.8,1924.4 463.9,2012.4 465,1924.4 466.1,1916.1 467.3,1932.4 468.4,1994.2 469.5,1950.3 470.6,1921.3 471.7,1935.5 472.8,1985 473.9,1918.3 475,1988.1 476.1,1873.1 477.2,1769.3 478.4,1898.4 479.5,2007.9 480.6,1920.8 481.7,1923.1 482.8,1993.1 483.9,1941.9 485,1995.7 486.1,1916.3 487.2,1894 488.3,1949.8 489.4,2003.1 490.6,1946.5 491.7,1936 492.8,1995.3 493.9,1941.2 495,2012 496.1,1954.2 497.2,2004.1 498.3,1951.5 499.4,1925 500.5,1939 501.7,2003 502.8,1951.4 503.9,2004.4 505,1954.4 506.1,1966.5 507.2,2002 508.3,2017 509.4,2016.2 510.5,1874.1 511.6,1958.4 512.7,1989.8 513.9,1955.3 515,1985.3 516.1,1954.1 517.2,1991.9 518.3,1957.8 519.4,1910.8 520.5,1943.4 521.6,1983.3 522.7,1935.5 523.8,2004.8 525,1976.4 526.1,1971.2 527.2,2016.7 528.3,1976.2 529.4,1995.7 530.5,1968.7 531.6,1990.7 532.7,2000.9 533.8,1999.1 534.9,1972.9 536.1,2005.3 537.2,1871.5 538.3,1968 539.4,1998.7 540.5,1961.6 541.6,2001.3 542.7,2015.5 543.8,1969.2 544.9,1959.6 546,1992.4 547.1,2017.8 548.3,1974 549.4,1955 550.5,1947 551.6,1982.3 552.7,2005.9 553.8,1962 554.9,1951.2 556,1999.5 557.1,1964 558.2,1974.7 559.4,2015.3 560.5,1956.9 561.6,2008.7 562.7,1968.3 563.8,1968.5 564.9,1990.9 566,1942.3 567.1,2019.3 568.2,1963.3 569.3,1996.2 570.4,1978.2 571.6,2016.2 572.7,2017.1 573.8,1958 574.9,1944.9 576,2016.9 577.1,2004.9 578.2,2023.4 579.3,2020.3 580.4,1981.1 581.5,1977.7 582.7,2014.6 583.8,2023.8 584.9,1986.5 586,2012.8 587.1,2015 588.2,1973.2 589.3,2014 590.4,1982.9 591.5,2016.5 592.6,1973.6 593.7,1956.4 594.9,2022.7 596,1996.6 597.1,2027.1 598.2,2018.9 599.3,2027.4 600.4,2009.3 601.5,2027 602.6,2004 603.7,1990 604.8,2004.1 606,2023.7 607.1,2010.8 608.2,2000.5 609.3,2007.8 610.4,2002.7 611.5,2000.7 612.6,2019.4 613.7,2024.1 614.8,2010 615.9,2024.2 617.1,2003.9 618.2,2022.5 619.3,1960.6 620.4,1988.6 621.5,1984.9 622.6,1974.1 623.7,1970.6 624.8,2003.4 625.9,1968.5 627,1989.3 628.1,1982.1 629.3,1970.1 630.4,1979.4 631.5,2015.8 632.6,1994.1 633.7,2018.8 634.8,1985.3 635.9,1995.4 637,1985.7 638.1,2012.3 639.2,1999.1 640.4,1978.4 641.5,1976.8 642.6,1975.8 643.7,1961.7 644.8,2016.9 645.9,2024.2 647,1995.4 648.1,2018.4 649.2,2003.4 650.3,2002.1 651.4,1990.3 652.6,2007.5 653.7,1982.6 654.8,2008.4 655.9,1998.5 657,2010.8 658.1,2004.3 659.2,1986.8 660.3,2008.5 661.4,2008.3 662.5,2013.4 663.7,2026.2 664.8,2018.3 665.9,2030 667,2021.2 668.1,2028 669.2,2027.9 670.3,2013 671.4,2029.8 672.5,2032.8 673.6,2026.9 674.8,2028.8 675.9,2024.9 677,2032.1 678.1,2034.7 679.2,2024 680.3,2017.2 681.4,2022.1 682.5,2032.1 683.6,2030.4 684.7,2030.2 685.8,2029.8 687,2031 688.1,2028.7 689.2,2032.9 690.3,2034.6 691.4,2028.6 692.5,2031.7 693.6,2021.4 694.7,2026.6 695.8,2025 696.9,2030.4 698.1,2030 699.2,2030.2 700.3,2034.8 701.4,2027.2 702.5,2035.7 703.6,2037.4"/>
<path class="rc" style="stroke-width:4" d="M249.8 1929.7v7.1 M279.7 1864.7v7.1 M341.9 1766.7v7.1 M434 1825.4v7.1 M477.2 1769.3v7.1 M510.5 1874.1v7.1 M537.2 1871.5v7.1"/>
<g class="t" style="font-size:39px" text-anchor="end">
<text transform="translate(123.1 2053) scale(1 1.045)">0.00</text>
<text transform="translate(123.1 2000.6) scale(1 1.045)">1.00</text>
<text transform="translate(123.1 1948.2) scale(1 1.045)">2.00</text>
<text transform="translate(123.1 1895.7) scale(1 1.045)">3.00</text>
<text transform="translate(123.1 1843.3) scale(1 1.045)">4.00</text>
<text transform="translate(123.1 1790.9) scale(1 1.045)">5.00</text>
<text transform="translate(123.1 1738.5) scale(1 1.045)">6.00</text>
<text transform="translate(123.1 1686) scale(1 1.045)">7.00</text>
<text transform="translate(123.1 1633.6) scale(1 1.045)">8.00</text>
<text transform="translate(123.1 1581.2) scale(1 1.045)">9.00</text>
</g>
<g class="t" style="font-size:39px" text-anchor="middle">
<text transform="translate(148.8 2095.3) scale(1 1.045)">0</text>
<text transform="translate(204.3 2095.3) scale(1 1.045)">10</text>
<text transform="translate(259.8 2095.3) scale(1 1.045)">20</text>
<text transform="translate(315.2 2095.3) scale(1 1.045)">30</text>
<text transform="translate(370.7 2095.3) scale(1 1.045)">40</text>
<text transform="translate(426.2 2095.3) scale(1 1.045)">50</text>
<text transform="translate(481.7 2095.3) scale(1 1.045)">60</text>
<text transform="translate(537.2 2095.3) scale(1 1.045)">70</text>
<text transform="translate(592.6 2095.3) scale(1 1.045)">80</text>
<text transform="translate(648.1 2095.3) scale(1 1.045)">90</text>
<text transform="translate(703.6 2095.3) scale(1 1.045)">100</text>
<text transform="translate(426.2 2138.7) scale(1 1.045)">Frequency (Hz)</text>
<text transform="translate(37.6 1803.7) rotate(-90) scale(1.0106 1.045)">Velocity (×10<tspan dy="-15" style="font-size:26.9px">-7</tspan><tspan dy="15">m/s)</tspan></text>
</g>
<line class="lb" style="stroke-width:4" x1="510.3" y1="1590.7" x2="597.5" y2="1590.7"/>
<line class="lr" style="stroke-width:4;stroke-dasharray:16.1 20.4" x1="510.3" y1="1639.1" x2="597.5" y2="1639.1"/>
<g class="t" style="font-size:39px">
<text transform="translate(608.1 1603.4) scale(1 1.045)">#P1C-y</text>
<text transform="translate(608.1 1651.8) scale(1 1.045)">#P1D-y</text>
</g>
<text class="t cap" style="font-size:39.6px" text-anchor="middle" transform="translate(394.5 2207.7) scale(1 1.045)">(e) velocity in the y direction at noon</text>
</g>
<g class="chart" id="chart-f">
<path class="ax" style="stroke-width:4" d="M911.8 1566.5 V2055.4 M896.7 2040.3 H1468.6 M904.2 1993.1 H911.8 M896.7 1945.9 H911.8 M904.2 1898.8 H911.8 M896.7 1851.6 H911.8 M904.2 1804.4 H911.8 M896.7 1757.2 H911.8 M904.2 1710 H911.8 M896.7 1662.9 H911.8 M904.2 1615.7 H911.8 M896.7 1568.5 H911.8 M939.5 2040.3 V2047.9 M967.3 2040.3 V2055.4 M995 2040.3 V2047.9 M1022.8 2040.3 V2055.4 M1050.5 2040.3 V2047.9 M1078.2 2040.3 V2055.4 M1106 2040.3 V2047.9 M1133.7 2040.3 V2055.4 M1161.5 2040.3 V2047.9 M1189.2 2040.3 V2055.4 M1216.9 2040.3 V2047.9 M1244.7 2040.3 V2055.4 M1272.4 2040.3 V2047.9 M1300.2 2040.3 V2055.4 M1327.9 2040.3 V2047.9 M1355.6 2040.3 V2055.4 M1383.4 2040.3 V2047.9 M1411.1 2040.3 V2055.4 M1438.9 2040.3 V2047.9 M1466.6 2040.3 V2055.4"/>
<polyline class="sb" style="stroke-width:4" points="911.8,2040.3 912.9,2031 914,2033.6 915.1,1999.7 916.2,2033.8 917.3,2009.1 918.5,2026.1 919.6,2005.7 920.7,2027.8 921.8,1993.4 922.9,2007.6 924,1967.6 925.1,2005 926.2,1962.4 927.3,2011.1 928.4,1949.6 929.6,2002.9 930.7,1938.9 931.8,1913.3 932.9,1845.4 934,1771.4 935.1,1844.6 936.2,1930.1 937.3,1873.3 938.4,1927 939.5,1817.9 940.6,1766.7 941.8,1833.2 942.9,1864.5 944,1990.1 945.1,1905.3 946.2,1963.9 947.3,1863.8 948.4,1966.5 949.5,1925.1 950.6,1992.2 951.7,1911 952.9,1985.1 954,1929.7 955.1,2013.6 956.2,1922.7 957.3,2019.2 958.4,1961.2 959.5,1924.2 960.6,1933.5 961.7,2025.5 962.8,1945.5 964,2026.3 965.1,1985.1 966.2,2014.2 967.3,1971.4 968.4,2035.2 969.5,1984.1 970.6,2012.2 971.7,1976.3 972.8,2020.8 973.9,1981 975,2013.4 976.2,1993.9 977.3,2009 978.4,1976.1 979.5,2011.6 980.6,1989.3 981.7,1990.3 982.8,2015.7 983.9,1984 985,1981.8 986.1,2019.8 987.3,1989.3 988.4,2014.4 989.5,1992.5 990.6,2017.7 991.7,1984.8 992.8,2012.7 993.9,1984.3 995,2013.9 996.1,1979 997.2,2014.6 998.3,2001.4 999.5,2021.8 1000.6,2005 1001.7,2026.2 1002.8,2011.1 1003.9,2026.3 1005,2016.7 1006.1,2012 1007.2,2015.3 1008.3,2026.6 1009.4,2018.7 1010.6,2030.4 1011.7,2015.5 1012.8,2036 1013.9,2018.7 1015,2016.7 1016.1,2036 1017.2,2030.7 1018.3,2026.1 1019.4,2031.2 1020.5,2025.6 1021.7,2026.1 1022.8,2025.2 1023.9,2036.8 1025,2027.6 1026.1,2029.1 1027.2,2032.9 1028.3,2036.4 1029.4,2030.4 1030.5,2026.4 1031.6,2036.3 1032.7,2032.8 1033.9,2021.4 1035,2033.6 1036.1,2026.1 1037.2,2022.4 1038.3,2036.3 1039.4,2023.5 1040.5,2036.2 1041.6,2026 1042.7,2035 1043.8,2029.1 1045,2036.9 1046.1,2028.6 1047.2,2037.3 1048.3,2027.5 1049.4,2025.8 1050.5,2021.4 1051.6,2029.6 1052.7,2033.9 1053.8,2029.7 1054.9,2036.2 1056,2037.9 1057.2,2038.2 1058.3,2034.3 1059.4,2032.4 1060.5,2036 1061.6,2034 1062.7,2033.2 1063.8,2033.5 1064.9,2032 1066,2035.5 1067.1,2033.2 1068.3,2036 1069.4,2036.4 1070.5,2034.1 1071.6,2036.4 1072.7,2036.7 1073.8,2037.6 1074.9,2034.5 1076,2036.8 1077.1,2033.3 1078.2,2034.9 1079.3,2037.1 1080.5,2038 1081.6,2038.5 1082.7,2037.1 1083.8,2037.8 1084.9,2034.4 1086,2033.3 1087.1,2035 1088.2,2033.9 1089.3,2033.5 1090.4,2034.4 1091.6,2030.5 1092.7,2037.8 1093.8,2018.6 1094.9,2037.6 1096,2032.8 1097.1,2035.1 1098.2,2037.5 1099.3,2032.7 1100.4,2036.7 1101.5,2033 1102.7,2036.3 1103.8,2029.4 1104.9,2026.1 1106,2036 1107.1,2027.5 1108.2,2035.5 1109.3,2029.6 1110.4,2034.6 1111.5,2024.2 1112.6,2021.4 1113.7,2031.9 1114.9,2023.8 1116,2035.9 1117.1,2034.6 1118.2,2029.2 1119.3,2033.1 1120.4,2037.3 1121.5,2028.6 1122.6,2034.7 1123.7,2034.8 1124.8,2030.8 1126,2034.1 1127.1,2030.6 1128.2,2029 1129.3,2033.4 1130.4,2036.6 1131.5,2034.3 1132.6,2037.3 1133.7,2037.6 1134.8,2033.2 1135.9,2031.1 1137,2036.1 1138.2,2032.8 1139.3,2036.4 1140.4,2032.6 1141.5,2031.6 1142.6,2029.9 1143.7,2037.9 1144.8,2037.9 1145.9,2035 1147,2035.3 1148.1,2034.7 1149.3,2035.1 1150.4,2035.3 1151.5,2035.3 1152.6,2036.8 1153.7,2035.5 1154.8,2034.8 1155.9,2034.2 1157,2035.8 1158.1,2035.4 1159.2,2036.7 1160.4,2037.8 1161.5,2037.6 1162.6,2038 1163.7,2035.2 1164.8,2037.2 1165.9,2038.1 1167,2038.1 1168.1,2034.9 1169.2,2035.7 1170.3,2036.3 1171.4,2030.9 1172.6,2033.9 1173.7,2033.4 1174.8,2035.9 1175.9,2035.3 1177,2037.5 1178.1,2038.2 1179.2,2038.4 1180.3,2038.7 1181.4,2038.9 1182.5,2037.3 1183.7,2037.6 1184.8,2036.7 1185.9,2036.1 1187,2035.9 1188.1,2036.2 1189.2,2036.4 1190.3,2037.8 1191.4,2037.2 1192.5,2036.9 1193.6,2036.2 1194.7,2036.2 1195.9,2037.1 1197,2038 1198.1,2036.6 1199.2,2036.1 1200.3,2037 1201.4,2036.1 1202.5,2036.9 1203.6,2036.1 1204.7,2035.5 1205.8,2035.8 1207,2037 1208.1,2037.9 1209.2,2034.7 1210.3,2036.4 1211.4,2027.1 1212.5,2034.2 1213.6,2026.6 1214.7,2031.5 1215.8,2021.1 1216.9,2034.9 1218,2010.1 1219.2,2033 1220.3,2020.3 1221.4,2033.2 1222.5,2033.8 1223.6,2033.7 1224.7,2036 1225.8,2034.4 1226.9,2032.6 1228,2034.8 1229.1,2032.8 1230.3,2032.2 1231.4,2036.5 1232.5,2037.3 1233.6,2033.5 1234.7,2034.2 1235.8,2016.7 1236.9,2024.6 1238,1999.5 1239.1,1981.8 1240.2,1996 1241.4,2021.2 1242.5,2000.1 1243.6,1995 1244.7,2003.3 1245.8,2029.9 1246.9,2016.7 1248,2021.7 1249.1,2027.1 1250.2,2009.5 1251.3,2026.7 1252.4,1996.7 1253.6,1993.1 1254.7,2005.3 1255.8,2026 1256.9,2016.5 1258,2018.6 1259.1,2024.8 1260.2,2032.3 1261.3,2034.1 1262.4,2036.5 1263.5,2037.3 1264.7,2038.4 1265.8,2037.9 1266.9,2037.7 1268,2038.4 1269.1,2037.8 1270.2,2037.7 1271.3,2038.4 1272.4,2038.7 1273.5,2037.9 1274.6,2038.7 1275.7,2039.1 1276.9,2039.3 1278,2038 1279.1,2037.5 1280.2,2037.2 1281.3,2038.4 1282.4,2038.8 1283.5,2037.8 1284.6,2037.4 1285.7,2037.5 1286.8,2037.3 1288,2037.3 1289.1,2038.2 1290.2,2038.4 1291.3,2038.7 1292.4,2038.2 1293.5,2037.7 1294.6,2037.3 1295.7,2037.7 1296.8,2037.5 1297.9,2037.7 1299.1,2038.6 1300.2,2038.2 1301.3,2038.8 1302.4,2037.9 1303.5,2038.8 1304.6,2038.1 1305.7,2038.8 1306.8,2038.2 1307.9,2038 1309,2038.8 1310.1,2039.2 1311.3,2039.1 1312.4,2039.4 1313.5,2039.1 1314.6,2038.2 1315.7,2037.8 1316.8,2038.2 1317.9,2038 1319,2037.9 1320.1,2038.5 1321.2,2037.9 1322.4,2037.9 1323.5,2038.5 1324.6,2038.7 1325.7,2039.2 1326.8,2039.2 1327.9,2038.2 1329,2037.8 1330.1,2037.6 1331.2,2037.8 1332.3,2038.6 1333.4,2038.7 1334.6,2038.9 1335.7,2038.3 1336.8,2039 1337.9,2038.3 1339,2038.9 1340.1,2038.5 1341.2,2038.8 1342.3,2038.9 1343.4,2038.8 1344.5,2039.3 1345.7,2038.6 1346.8,2038.1 1347.9,2038.5 1349,2038.4 1350.1,2038.9 1351.2,2038.9 1352.3,2038.4 1353.4,2038.9 1354.5,2038.1 1355.6,2038.1 1356.7,2038.2 1357.9,2038.7 1359,2038.3 1360.1,2038 1361.2,2038.1 1362.3,2037.8 1363.4,2037.8 1364.5,2038.6 1365.6,2038.3 1366.7,2038.8 1367.8,2038.3 1369,2038 1370.1,2038.7 1371.2,2038.3 1372.3,2038.8 1373.4,2038.4 1374.5,2038.2 1375.6,2038.2 1376.7,2037.9 1377.8,2038.6 1378.9,2039.2 1380.1,2038.5 1381.2,2039 1382.3,2038.4 1383.4,2038.2 1384.5,2038.3 1385.6,2038.1 1386.7,2038.9 1387.8,2039.4 1388.9,2039.3 1390,2038.9 1391.1,2038.3 1392.3,2038.9 1393.4,2039.3 1394.5,2039.2 1395.6,2038.7 1396.7,2039.2 1397.8,2039.5 1398.9,2039.5 1400,2038.7 1401.1,2038.6 1402.2,2038.6 1403.4,2038.4 1404.5,2038.3 1405.6,2038.3 1406.7,2039.1 1407.8,2038.6 1408.9,2039 1410,2039.3 1411.1,2039.5 1412.2,2038.8 1413.3,2039.3 1414.4,2038.7 1415.6,2038.6 1416.7,2039 1417.8,2039.4 1418.9,2039.5 1420,2039.4 1421.1,2038.8 1422.2,2039 1423.3,2038.6 1424.4,2039.2 1425.5,2039 1426.7,2038.7 1427.8,2039.2 1428.9,2039.5 1430,2039.6 1431.1,2039.1 1432.2,2038.7 1433.3,2039.2 1434.4,2039.4 1435.5,2039.5 1436.6,2038.9 1437.8,2039.3 1438.9,2039.5 1440,2039.4 1441.1,2039.1 1442.2,2039.3 1443.3,2038.8 1444.4,2038.8 1445.5,2039.4 1446.6,2039.5 1447.7,2039.1 1448.8,2038.8 1450,2038.6 1451.1,2038.6 1452.2,2038.5 1453.3,2039.1 1454.4,2039.3 1455.5,2038.9 1456.6,2038.9 1457.7,2039.3 1458.8,2039 1459.9,2039 1461.1,2038.7 1462.2,2038.6 1463.3,2038.8 1464.4,2038.6 1465.5,2038.6 1466.6,2039"/>
<polyline class="sr" style="stroke-width:4" points="911.8,2040.3 912.9,2038.4 914,2032.3 915.1,2030.5 916.2,2015.2 917.3,1987.6 918.5,1969.5 919.6,2001 920.7,2016.7 921.8,2004.3 922.9,2017.8 924,2005.2 925.1,1992.2 926.2,2007.5 927.3,2013.6 928.4,1958.2 929.6,2004.2 930.7,1928.3 931.8,1986 932.9,1824.2 934,1994.2 935.1,1921.6 936.2,1996.7 937.3,1931.3 938.4,1995.8 939.5,1882.1 940.6,1849.7 941.8,1881.3 942.9,2009.4 944,1864.8 945.1,1771.4 946.2,1881.5 947.3,2007.5 948.4,1905.1 949.5,1957.5 950.6,1960.7 951.7,1880.8 952.9,1971.4 954,1881.2 955.1,1963.8 956.2,1889.3 957.3,1977.6 958.4,1912 959.5,1996.7 960.6,1857.2 961.7,2011.7 962.8,1857.5 964,1982.4 965.1,1848.8 966.2,1840.3 967.3,1848.1 968.4,1949.7 969.5,1856.9 970.6,2000.1 971.7,1852.8 972.8,1843.1 973.9,1884 975,1998.5 976.2,1905.4 977.3,1982.2 978.4,1921.3 979.5,1999.7 980.6,1947.4 981.7,1931.1 982.8,1993.4 983.9,1948.5 985,1735.5 986.1,1950.5 987.3,1988.6 988.4,1958 989.5,1931.8 990.6,1960.3 991.7,2006.9 992.8,1943.9 993.9,2003.5 995,2011.4 996.1,2012 997.2,1936.4 998.3,1919.5 999.5,1996.1 1000.6,1925.4 1001.7,2007.7 1002.8,1941.2 1003.9,1972.2 1005,1904.9 1006.1,1918.8 1007.2,1893.1 1008.3,1989.5 1009.4,1927.2 1010.6,1914.8 1011.7,1939.2 1012.8,1922.5 1013.9,2006.8 1015,1926.4 1016.1,2013.5 1017.2,1913.9 1018.3,1975.1 1019.4,1911 1020.5,2016.2 1021.7,1895 1022.8,1981.5 1023.9,1938.6 1025,1929.9 1026.1,1938.5 1027.2,1943 1028.3,2006.2 1029.4,1958.5 1030.5,2012.6 1031.6,1937.4 1032.7,1995.7 1033.9,1895.9 1035,2009.3 1036.1,1915.8 1037.2,2010.9 1038.3,1940.1 1039.4,2014.8 1040.5,1962.5 1041.6,1919.5 1042.7,1932.8 1043.8,2007.1 1045,1930.3 1046.1,1990.8 1047.2,1925.1 1048.3,1907.3 1049.4,2003 1050.5,1965.5 1051.6,1955.4 1052.7,1963.1 1053.8,2004.3 1054.9,1967.7 1056,2011.4 1057.2,1969.9 1058.3,1964.6 1059.4,2006 1060.5,1937.4 1061.6,1965.2 1062.7,1985.7 1063.8,2018.3 1064.9,1993.1 1066,2009.1 1067.1,2005.1 1068.3,2002.9 1069.4,2015.2 1070.5,2019.4 1071.6,2009.3 1072.7,1995 1073.8,2003.6 1074.9,1997.6 1076,2020 1077.1,2028.9 1078.2,1983.7 1079.3,2020 1080.5,2028.8 1081.6,2006.2 1082.7,1990.8 1083.8,2013.1 1084.9,1999.7 1086,2006.9 1087.1,1994.1 1088.2,2016.5 1089.3,1983.1 1090.4,1962 1091.6,1979.4 1092.7,1997.6 1093.8,1972.5 1094.9,1996.1 1096,2013.9 1097.1,1977.7 1098.2,2010.5 1099.3,1980.8 1100.4,1941.2 1101.5,1960.1 1102.7,1955.7 1103.8,1999.1 1104.9,1996.7 1106,1955.4 1107.1,2007.1 1108.2,2014.1 1109.3,1980 1110.4,2009.9 1111.5,1958.2 1112.6,1960.9 1113.7,1986.4 1114.9,2012.3 1116,1959.6 1117.1,1988 1118.2,1949.4 1119.3,1920.5 1120.4,2000.6 1121.5,1972.2 1122.6,2010.8 1123.7,1981.6 1124.8,1954.4 1126,1966.2 1127.1,2008 1128.2,1999.5 1129.3,1954.1 1130.4,1991 1131.5,1946.7 1132.6,1917.6 1133.7,1933.8 1134.8,1932.6 1135.9,1998.9 1137,1995.5 1138.2,1950.7 1139.3,2004.7 1140.4,2014.3 1141.5,1988.2 1142.6,2011.6 1143.7,1979.7 1144.8,1964.8 1145.9,2004.7 1147,1985.6 1148.1,2011.8 1149.3,1994.3 1150.4,2002.7 1151.5,2015.4 1152.6,2010.1 1153.7,1999.7 1154.8,2024.3 1155.9,2010.8 1157,2002.1 1158.1,1992.1 1159.2,1994.8 1160.4,1980.9 1161.5,1987.1 1162.6,2007.3 1163.7,2001 1164.8,2002.7 1165.9,2024.3 1167,2002.5 1168.1,1993.1 1169.2,2028 1170.3,2026.3 1171.4,2006 1172.6,2016.4 1173.7,2001 1174.8,2022.8 1175.9,2020.9 1177,2011.6 1178.1,2021 1179.2,2030 1180.3,1950.7 1181.4,2025.4 1182.5,2029.5 1183.7,2000.7 1184.8,2016 1185.9,2003.6 1187,2018.5 1188.1,2016.8 1189.2,1992 1190.3,1980.9 1191.4,2000 1192.5,2013.7 1193.6,2019.7 1194.7,1992.4 1195.9,2023.9 1197,1993.3 1198.1,1964.8 1199.2,1977.2 1200.3,2022.5 1201.4,1988.3 1202.5,1984.4 1203.6,2022.6 1204.7,2006.1 1205.8,1983.7 1207,1993.1 1208.1,2018.1 1209.2,2024.4 1210.3,2023.5 1211.4,1997.6 1212.5,1941.1 1213.6,1942.8 1214.7,1912 1215.8,1919 1216.9,1984.2 1218,1908.2 1219.2,2011.8 1220.3,1936.9 1221.4,1978 1222.5,1880.8 1223.6,1868.6 1224.7,1867.8 1225.8,1997.9 1226.9,1860.1 1228,2011.5 1229.1,1833.7 1230.3,2008.4 1231.4,1855 1232.5,1985.5 1233.6,1905.3 1234.7,2012.7 1235.8,1878 1236.9,2011.1 1238,1876 1239.1,1993.9 1240.2,1874.9 1241.4,1988 1242.5,1873.2 1243.6,1999.2 1244.7,1837.4 1245.8,1977.8 1246.9,1896.1 1248,1957.2 1249.1,1823.9 1250.2,1932.7 1251.3,1846.2 1252.4,1926.5 1253.6,1769.5 1254.7,1993.7 1255.8,1864.5 1256.9,2001.8 1258,1906.1 1259.1,1969.9 1260.2,1927.8 1261.3,1934.6 1262.4,1994.3 1263.5,1996.6 1264.7,2010.4 1265.8,1961.6 1266.9,1950.7 1268,2003.1 1269.1,1986.5 1270.2,2017.6 1271.3,2008.7 1272.4,1995 1273.5,2014.2 1274.6,2028.2 1275.7,2036.4 1276.9,2036.9 1278,2033.8 1279.1,2034.4 1280.2,2025.8 1281.3,2032.4 1282.4,2011 1283.5,2019.7 1284.6,2032.1 1285.7,2022.7 1286.8,2019.5 1288,2028.1 1289.1,2023.9 1290.2,2025.6 1291.3,2033.4 1292.4,2033.5 1293.5,2028.8 1294.6,2031.1 1295.7,2033.8 1296.8,2028.8 1297.9,2024.3 1299.1,2026.4 1300.2,2025.8 1301.3,2032 1302.4,2027.3 1303.5,2031.4 1304.6,2024.9 1305.7,2017.7 1306.8,2034.3 1307.9,2034.6 1309,2028.3 1310.1,2034.4 1311.3,2036.3 1312.4,2032.4 1313.5,2031.8 1314.6,2037 1315.7,2034.9 1316.8,2031.9 1317.9,2035.3 1319,2035.1 1320.1,2036.5 1321.2,2031 1322.4,2028.4 1323.5,2034 1324.6,2024.3 1325.7,2030.1 1326.8,2028.5 1327.9,2029.8 1329,2033.2 1330.1,2033.4 1331.2,2036.5 1332.3,2035.4 1333.4,2033.7 1334.6,2037.4 1335.7,2036.6 1336.8,2034.1 1337.9,2033.5 1339,2033.2 1340.1,2032.6 1341.2,2032 1342.3,2031.3 1343.4,2031.5 1344.5,2028 1345.7,2032.5 1346.8,2031.5 1347.9,2033.1 1349,2029.4 1350.1,2026.1 1351.2,2034.4 1352.3,2032 1353.4,2031.3 1354.5,2030.7 1355.6,2031.1 1356.7,2032.4 1357.9,2030.9 1359,2034.9 1360.1,2036.8 1361.2,2033.8 1362.3,2036.1 1363.4,2037.3 1364.5,2036.6 1365.6,2036.4 1366.7,2037.5 1367.8,2027.1 1369,2031.8 1370.1,2033.4 1371.2,2032.3 1372.3,2030.1 1373.4,2029.8 1374.5,2034 1375.6,2036 1376.7,2033.9 1377.8,2029 1378.9,2035.5 1380.1,2036.6 1381.2,2036.8 1382.3,2037.2 1383.4,2036.7 1384.5,2036.5 1385.6,2037.1 1386.7,2037.3 1387.8,2036.7 1388.9,2036.9 1390,2036.1 1391.1,2036.6 1392.3,2035.2 1393.4,2034.6 1394.5,2032.8 1395.6,2034.2 1396.7,2035.3 1397.8,2033.6 1398.9,2026.1 1400,2018.6 1401.1,2023.8 1402.2,2017.7 1403.4,2031.4 1404.5,2034.3 1405.6,2036.7 1406.7,2024.4 1407.8,2032.8 1408.9,2033.6 1410,2029.5 1411.1,2008.2 1412.2,2031.5 1413.3,2027.7 1414.4,2032.8 1415.6,2034.8 1416.7,2030.9 1417.8,2034.4 1418.9,2031.7 1420,2035 1421.1,2035 1422.2,2027.1 1423.3,2025.6 1424.4,2031.7 1425.5,2006.3 1426.7,2022.3 1427.8,2029.4 1428.9,2015.8 1430,2022.3 1431.1,2021.7 1432.2,2031.9 1433.3,2021.4 1434.4,2036.8 1435.5,2029.8 1436.6,2026.8 1437.8,2027.9 1438.9,2024.3 1440,2029 1441.1,2032.7 1442.2,2034.3 1443.3,2030.6 1444.4,2033.5 1445.5,2036.3 1446.6,2029.9 1447.7,2032.5 1448.8,2035.5 1450,2032.6 1451.1,2029.9 1452.2,2028.3 1453.3,2024.3 1454.4,2031.8 1455.5,2036.1 1456.6,2032.9 1457.7,2035.2 1458.8,2035.2 1459.9,2035.6 1461.1,2036.5 1462.2,2035 1463.3,2034 1464.4,2035.6 1465.5,2033 1466.6,2026.1"/>
<path class="rc" style="stroke-width:4" d="M945.1 1771.4v7.1 M985 1735.5v7.1 M1180.3 1950.7v7.1"/>
<g class="t" style="font-size:39px" text-anchor="end">
<text transform="translate(886.1 2053) scale(1 1.045)">0.00</text>
<text transform="translate(886.1 1958.6) scale(1 1.045)">1.00</text>
<text transform="translate(886.1 1864.3) scale(1 1.045)">2.00</text>
<text transform="translate(886.1 1769.9) scale(1 1.045)">3.00</text>
<text transform="translate(886.1 1675.6) scale(1 1.045)">4.00</text>
<text transform="translate(886.1 1581.2) scale(1 1.045)">5.00</text>
</g>
<g class="t" style="font-size:39px" text-anchor="middle">
<text transform="translate(911.8 2095.3) scale(1 1.045)">0</text>
<text transform="translate(967.3 2095.3) scale(1 1.045)">10</text>
<text transform="translate(1022.8 2095.3) scale(1 1.045)">20</text>
<text transform="translate(1078.2 2095.3) scale(1 1.045)">30</text>
<text transform="translate(1133.7 2095.3) scale(1 1.045)">40</text>
<text transform="translate(1189.2 2095.3) scale(1 1.045)">50</text>
<text transform="translate(1244.7 2095.3) scale(1 1.045)">60</text>
<text transform="translate(1300.2 2095.3) scale(1 1.045)">70</text>
<text transform="translate(1355.6 2095.3) scale(1 1.045)">80</text>
<text transform="translate(1411.1 2095.3) scale(1 1.045)">90</text>
<text transform="translate(1466.6 2095.3) scale(1 1.045)">100</text>
<text transform="translate(1189.2 2138.7) scale(1 1.045)">Frequency (Hz)</text>
<text transform="translate(800.6 1803.7) rotate(-90) scale(1.0106 1.045)">Velocity (×10<tspan dy="-15" style="font-size:26.9px">-7</tspan><tspan dy="15">m/s)</tspan></text>
</g>
<line class="lb" style="stroke-width:4" x1="1273.3" y1="1590.7" x2="1360.5" y2="1590.7"/>
<line class="lr" style="stroke-width:4;stroke-dasharray:16.1 20.4" x1="1273.3" y1="1639.1" x2="1360.5" y2="1639.1"/>
<g class="t" style="font-size:39px">
<text transform="translate(1371.1 1603.4) scale(1 1.045)">#P1C-y</text>
<text transform="translate(1371.1 1651.8) scale(1 1.045)">#P1D-y</text>
</g>
<text class="t cap" style="font-size:39.6px" text-anchor="middle" transform="translate(1157 2207.7) scale(1 1.045)">(f) velocity in the y direction at night</text>
</g>
</svg>
</body>
</html>
